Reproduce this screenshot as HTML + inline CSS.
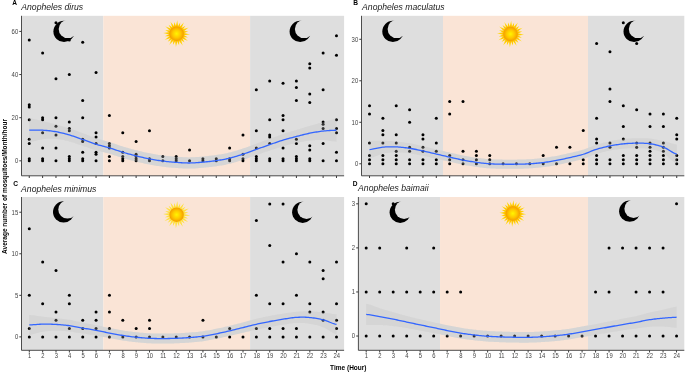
<!DOCTYPE html>
<html><head><meta charset="utf-8"><style>
html,body{margin:0;padding:0;background:#fff;}
svg{display:block;font-family:"Liberation Sans",sans-serif;}
</style></head><body>
<svg width="685" height="372" viewBox="0 0 685 372">
<defs>
<radialGradient id="sg" cx="0.5" cy="0.5" r="0.5"><stop offset="0" stop-color="#fff500"/><stop offset="0.55" stop-color="#ffc800"/><stop offset="0.88" stop-color="#f7a800"/><stop offset="1" stop-color="#f09c00"/></radialGradient>
<linearGradient id="rg" x1="0" y1="0" x2="1" y2="0"><stop offset="0" stop-color="#ffcf1a"/><stop offset="1" stop-color="#ffe066"/></linearGradient>
</defs>
<rect width="685" height="372" fill="#fff"/>
<g style="will-change:transform">
<rect x="21.5" y="15.8" width="81.80" height="160.00" fill="#dedede"/>
<rect x="103.30" y="15.8" width="146.80" height="160.00" fill="#fae4d6"/>
<rect x="250.10" y="15.8" width="94.00" height="160.00" fill="#dedede"/>
<mask id="m1"><rect x="49.0" y="16.4" width="30" height="30" fill="#fff"/><circle cx="67.90" cy="28.90" r="9.2" fill="#000"/></mask>
<circle cx="64.00" cy="31.40" r="10.6" fill="#000" mask="url(#m1)"/>
<mask id="m2"><rect x="285.20000000000005" y="16.4" width="30" height="30" fill="#fff"/><circle cx="304.10" cy="28.90" r="9.2" fill="#000"/></mask>
<circle cx="300.20" cy="31.40" r="10.6" fill="#000" mask="url(#m2)"/>
<radialGradient id="rg177" gradientUnits="userSpaceOnUse" cx="176.6" cy="33.7" r="13"><stop offset="0.55" stop-color="#ffc000"/><stop offset="0.75" stop-color="#ffd000"/><stop offset="1" stop-color="#ffe040"/></radialGradient><path d="M177.34,27.14L180.28,22.28L179.83,27.95ZM180.52,28.39L185.50,25.65L182.28,30.33ZM182.65,31.06L188.33,31.18L183.20,33.62ZM183.16,34.44L188.02,37.38L182.35,36.93ZM181.91,37.62L184.65,42.60L179.97,39.38ZM179.24,39.75L179.12,45.43L176.68,40.30ZM175.86,40.26L172.92,45.12L173.37,39.45ZM172.68,39.01L167.70,41.75L170.92,37.07ZM170.55,36.34L164.87,36.22L170.00,33.78ZM170.04,32.96L165.18,30.02L170.85,30.47ZM171.29,29.78L168.55,24.80L173.23,28.02ZM173.96,27.65L174.08,21.97L176.52,27.10Z" fill="url(#rg177)"/><path d="M175.61,27.17L177.28,20.12L178.23,27.31ZM179.01,27.56L183.98,22.28L181.21,28.98ZM181.76,29.58L188.70,27.50L182.95,31.92ZM183.13,32.71L190.18,34.38L182.99,35.33ZM182.74,36.11L188.02,41.08L181.32,38.31ZM180.72,38.86L182.80,45.80L178.38,40.05ZM177.59,40.23L175.92,47.28L174.97,40.09ZM174.19,39.84L169.22,45.12L171.99,38.42ZM171.44,37.82L164.50,39.90L170.25,35.48ZM170.07,34.69L163.02,33.02L170.21,32.07ZM170.46,31.29L165.18,26.32L171.88,29.09ZM172.48,28.54L170.40,21.60L174.82,27.35Z" fill="url(#rg177)"/><circle cx="176.6" cy="33.7" r="7.2" fill="url(#sg)"/>
<polygon points="29.26,118.35 30.60,118.51 31.93,118.72 33.27,118.96 34.60,119.24 35.94,119.53 37.27,119.85 38.61,120.17 39.95,120.50 41.28,120.83 42.62,121.15 43.95,121.47 45.29,121.79 46.62,122.13 47.96,122.46 49.30,122.81 50.63,123.16 51.97,123.51 53.30,123.87 54.64,124.24 55.97,124.60 57.31,124.97 58.65,125.34 59.98,125.71 61.32,126.08 62.65,126.46 63.99,126.85 65.32,127.24 66.66,127.65 68.00,128.06 69.33,128.49 70.67,128.92 72.00,129.38 73.34,129.84 74.67,130.31 76.01,130.79 77.35,131.28 78.68,131.76 80.02,132.25 81.35,132.74 82.69,133.23 84.02,133.72 85.36,134.23 86.70,134.74 88.03,135.25 89.37,135.76 90.70,136.27 92.04,136.78 93.37,137.26 94.71,137.74 96.05,138.19 97.38,138.62 98.72,139.03 100.05,139.42 101.39,139.80 102.72,140.17 104.06,140.53 105.39,140.90 106.73,141.28 108.07,141.67 109.40,142.07 110.74,142.50 112.07,142.93 113.41,143.38 114.74,143.84 116.08,144.29 117.42,144.75 118.75,145.20 120.09,145.64 121.42,146.08 122.76,146.50 124.09,146.90 125.43,147.30 126.77,147.70 128.10,148.09 129.44,148.47 130.77,148.85 132.11,149.21 133.44,149.57 134.78,149.93 136.12,150.27 137.45,150.61 138.79,150.94 140.12,151.26 141.46,151.57 142.79,151.88 144.13,152.18 145.47,152.47 146.80,152.75 148.14,153.03 149.47,153.29 150.81,153.55 152.14,153.79 153.48,154.03 154.82,154.26 156.15,154.48 157.49,154.69 158.82,154.89 160.16,155.09 161.49,155.27 162.83,155.45 164.17,155.61 165.50,155.77 166.84,155.92 168.17,156.06 169.51,156.19 170.84,156.31 172.18,156.43 173.52,156.54 174.85,156.64 176.19,156.74 177.52,156.84 178.86,156.94 180.19,157.03 181.53,157.12 182.87,157.20 184.20,157.27 185.54,157.33 186.87,157.37 188.21,157.39 189.54,157.39 190.88,157.37 192.22,157.32 193.55,157.26 194.89,157.18 196.22,157.09 197.56,156.99 198.89,156.88 200.23,156.76 201.57,156.65 202.90,156.53 204.24,156.41 205.57,156.28 206.91,156.15 208.24,156.02 209.58,155.87 210.92,155.72 212.25,155.56 213.59,155.39 214.92,155.21 216.26,155.02 217.59,154.81 218.93,154.61 220.27,154.39 221.60,154.17 222.94,153.93 224.27,153.68 225.61,153.42 226.94,153.14 228.28,152.85 229.61,152.54 230.95,152.20 232.29,151.85 233.62,151.48 234.96,151.09 236.29,150.69 237.63,150.28 238.96,149.85 240.30,149.42 241.64,148.99 242.97,148.55 244.31,148.09 245.64,147.63 246.98,147.15 248.31,146.67 249.65,146.17 250.99,145.67 252.32,145.18 253.66,144.68 254.99,144.18 256.33,143.69 257.66,143.21 259.00,142.72 260.34,142.23 261.67,141.75 263.01,141.26 264.34,140.77 265.68,140.29 267.01,139.80 268.35,139.32 269.69,138.84 271.02,138.36 272.36,137.87 273.69,137.39 275.03,136.90 276.36,136.42 277.70,135.94 279.04,135.47 280.37,135.00 281.71,134.54 283.04,134.09 284.38,133.66 285.71,133.23 287.05,132.82 288.39,132.41 289.72,132.00 291.06,131.60 292.39,131.20 293.73,130.80 295.06,130.40 296.40,129.99 297.74,129.58 299.07,129.17 300.41,128.75 301.74,128.33 303.08,127.92 304.41,127.50 305.75,127.09 307.09,126.69 308.42,126.29 309.76,125.90 311.09,125.51 312.43,125.13 313.76,124.76 315.10,124.39 316.44,124.02 317.77,123.66 319.11,123.30 320.44,122.94 321.78,122.59 323.11,122.23 324.45,121.86 325.79,121.47 327.12,121.07 328.46,120.67 329.79,120.27 331.13,119.90 332.46,119.55 333.80,119.24 335.14,118.98 336.47,118.78 336.47,141.64 335.14,141.53 333.80,141.37 332.46,141.18 331.13,140.96 329.79,140.74 328.46,140.52 327.12,140.31 325.79,140.14 324.45,140.00 323.11,139.92 321.78,139.88 320.44,139.87 319.11,139.88 317.77,139.92 316.44,139.98 315.10,140.07 313.76,140.17 312.43,140.29 311.09,140.42 309.76,140.56 308.42,140.73 307.09,140.91 305.75,141.12 304.41,141.35 303.08,141.59 301.74,141.84 300.41,142.11 299.07,142.38 297.74,142.66 296.40,142.94 295.06,143.22 293.73,143.51 292.39,143.81 291.06,144.12 289.72,144.43 288.39,144.76 287.05,145.10 285.71,145.44 284.38,145.80 283.04,146.17 281.71,146.56 280.37,146.96 279.04,147.38 277.70,147.80 276.36,148.24 275.03,148.69 273.69,149.13 272.36,149.59 271.02,150.04 269.69,150.49 268.35,150.94 267.01,151.39 265.68,151.85 264.34,152.32 263.01,152.78 261.67,153.25 260.34,153.72 259.00,154.19 257.66,154.66 256.33,155.12 254.99,155.59 253.66,156.06 252.32,156.54 250.99,157.01 249.65,157.48 248.31,157.95 246.98,158.42 245.64,158.88 244.31,159.32 242.97,159.76 241.64,160.19 240.30,160.63 238.96,161.05 237.63,161.48 236.29,161.89 234.96,162.30 233.62,162.69 232.29,163.06 230.95,163.42 229.61,163.75 228.28,164.07 226.94,164.36 225.61,164.64 224.27,164.90 222.94,165.15 221.60,165.38 220.27,165.61 218.93,165.82 217.59,166.03 216.26,166.23 214.92,166.43 213.59,166.61 212.25,166.78 210.92,166.94 209.58,167.09 208.24,167.23 206.91,167.37 205.57,167.50 204.24,167.62 202.90,167.74 201.57,167.86 200.23,167.98 198.89,168.10 197.56,168.21 196.22,168.31 194.89,168.40 193.55,168.48 192.22,168.54 190.88,168.58 189.54,168.61 188.21,168.60 186.87,168.58 185.54,168.54 184.20,168.49 182.87,168.42 181.53,168.34 180.19,168.25 178.86,168.15 177.52,168.06 176.19,167.96 174.85,167.86 173.52,167.75 172.18,167.64 170.84,167.53 169.51,167.41 168.17,167.27 166.84,167.14 165.50,166.99 164.17,166.83 162.83,166.66 161.49,166.49 160.16,166.30 158.82,166.11 157.49,165.90 156.15,165.69 154.82,165.47 153.48,165.24 152.14,165.01 150.81,164.76 149.47,164.51 148.14,164.24 146.80,163.97 145.47,163.68 144.13,163.39 142.79,163.08 141.46,162.78 140.12,162.46 138.79,162.14 137.45,161.81 136.12,161.49 134.78,161.16 133.44,160.82 132.11,160.48 130.77,160.13 129.44,159.78 128.10,159.42 126.77,159.06 125.43,158.69 124.09,158.31 122.76,157.93 121.42,157.53 120.09,157.12 118.75,156.69 117.42,156.26 116.08,155.82 114.74,155.38 113.41,154.95 112.07,154.53 110.74,154.11 109.40,153.72 108.07,153.35 106.73,153.00 105.39,152.67 104.06,152.34 102.72,152.02 101.39,151.69 100.05,151.36 98.72,151.02 97.38,150.66 96.05,150.27 94.71,149.86 93.37,149.43 92.04,148.98 90.70,148.53 89.37,148.06 88.03,147.59 86.70,147.12 85.36,146.65 84.02,146.19 82.69,145.74 81.35,145.29 80.02,144.84 78.68,144.38 77.35,143.92 76.01,143.46 74.67,143.02 73.34,142.59 72.00,142.18 70.67,141.79 69.33,141.43 68.00,141.08 66.66,140.75 65.32,140.43 63.99,140.12 62.65,139.84 61.32,139.57 59.98,139.34 58.65,139.14 57.31,138.97 55.97,138.84 54.64,138.75 53.30,138.69 51.97,138.67 50.63,138.68 49.30,138.72 47.96,138.78 46.62,138.87 45.29,138.98 43.95,139.12 42.62,139.27 41.28,139.47 39.95,139.72 38.61,140.03 37.27,140.36 35.94,140.70 34.60,141.04 33.27,141.36 31.93,141.65 30.60,141.90 29.26,142.07" fill="#d5d5d5"/>
<circle cx="29.26" cy="40.05" r="1.5" fill="#000"/>
<circle cx="29.26" cy="104.76" r="1.5" fill="#000"/>
<circle cx="29.26" cy="106.92" r="1.5" fill="#000"/>
<circle cx="29.26" cy="119.86" r="1.5" fill="#000"/>
<circle cx="29.26" cy="139.27" r="1.5" fill="#000"/>
<circle cx="29.26" cy="143.58" r="1.5" fill="#000"/>
<circle cx="29.26" cy="158.68" r="1.5" fill="#000"/>
<circle cx="29.26" cy="160.84" r="1.5" fill="#000"/>
<circle cx="42.62" cy="52.99" r="1.5" fill="#000"/>
<circle cx="42.62" cy="117.70" r="1.5" fill="#000"/>
<circle cx="42.62" cy="119.86" r="1.5" fill="#000"/>
<circle cx="42.62" cy="132.80" r="1.5" fill="#000"/>
<circle cx="42.62" cy="147.90" r="1.5" fill="#000"/>
<circle cx="42.62" cy="158.68" r="1.5" fill="#000"/>
<circle cx="42.62" cy="160.84" r="1.5" fill="#000"/>
<circle cx="55.97" cy="22.79" r="1.5" fill="#000"/>
<circle cx="55.97" cy="78.87" r="1.5" fill="#000"/>
<circle cx="55.97" cy="117.70" r="1.5" fill="#000"/>
<circle cx="55.97" cy="126.33" r="1.5" fill="#000"/>
<circle cx="55.97" cy="134.96" r="1.5" fill="#000"/>
<circle cx="55.97" cy="147.90" r="1.5" fill="#000"/>
<circle cx="55.97" cy="160.84" r="1.5" fill="#000"/>
<circle cx="69.33" cy="40.05" r="1.5" fill="#000"/>
<circle cx="69.33" cy="74.56" r="1.5" fill="#000"/>
<circle cx="69.33" cy="122.01" r="1.5" fill="#000"/>
<circle cx="69.33" cy="128.49" r="1.5" fill="#000"/>
<circle cx="69.33" cy="130.64" r="1.5" fill="#000"/>
<circle cx="69.33" cy="156.53" r="1.5" fill="#000"/>
<circle cx="69.33" cy="158.68" r="1.5" fill="#000"/>
<circle cx="69.33" cy="160.84" r="1.5" fill="#000"/>
<circle cx="82.69" cy="42.20" r="1.5" fill="#000"/>
<circle cx="82.69" cy="100.44" r="1.5" fill="#000"/>
<circle cx="82.69" cy="117.70" r="1.5" fill="#000"/>
<circle cx="82.69" cy="139.27" r="1.5" fill="#000"/>
<circle cx="82.69" cy="141.43" r="1.5" fill="#000"/>
<circle cx="82.69" cy="152.21" r="1.5" fill="#000"/>
<circle cx="82.69" cy="158.68" r="1.5" fill="#000"/>
<circle cx="82.69" cy="160.84" r="1.5" fill="#000"/>
<circle cx="96.05" cy="72.40" r="1.5" fill="#000"/>
<circle cx="96.05" cy="132.80" r="1.5" fill="#000"/>
<circle cx="96.05" cy="137.11" r="1.5" fill="#000"/>
<circle cx="96.05" cy="143.58" r="1.5" fill="#000"/>
<circle cx="96.05" cy="152.21" r="1.5" fill="#000"/>
<circle cx="96.05" cy="154.37" r="1.5" fill="#000"/>
<circle cx="96.05" cy="160.84" r="1.5" fill="#000"/>
<circle cx="109.40" cy="115.54" r="1.5" fill="#000"/>
<circle cx="109.40" cy="143.58" r="1.5" fill="#000"/>
<circle cx="109.40" cy="145.74" r="1.5" fill="#000"/>
<circle cx="109.40" cy="147.90" r="1.5" fill="#000"/>
<circle cx="109.40" cy="156.53" r="1.5" fill="#000"/>
<circle cx="109.40" cy="160.84" r="1.5" fill="#000"/>
<circle cx="122.76" cy="132.80" r="1.5" fill="#000"/>
<circle cx="122.76" cy="152.21" r="1.5" fill="#000"/>
<circle cx="122.76" cy="156.53" r="1.5" fill="#000"/>
<circle cx="122.76" cy="158.68" r="1.5" fill="#000"/>
<circle cx="122.76" cy="160.84" r="1.5" fill="#000"/>
<circle cx="136.12" cy="141.43" r="1.5" fill="#000"/>
<circle cx="136.12" cy="154.37" r="1.5" fill="#000"/>
<circle cx="136.12" cy="156.53" r="1.5" fill="#000"/>
<circle cx="136.12" cy="158.68" r="1.5" fill="#000"/>
<circle cx="136.12" cy="160.84" r="1.5" fill="#000"/>
<circle cx="149.47" cy="130.64" r="1.5" fill="#000"/>
<circle cx="149.47" cy="158.68" r="1.5" fill="#000"/>
<circle cx="149.47" cy="160.84" r="1.5" fill="#000"/>
<circle cx="162.83" cy="156.53" r="1.5" fill="#000"/>
<circle cx="162.83" cy="160.84" r="1.5" fill="#000"/>
<circle cx="176.19" cy="156.53" r="1.5" fill="#000"/>
<circle cx="176.19" cy="158.68" r="1.5" fill="#000"/>
<circle cx="176.19" cy="160.84" r="1.5" fill="#000"/>
<circle cx="189.54" cy="150.06" r="1.5" fill="#000"/>
<circle cx="189.54" cy="160.84" r="1.5" fill="#000"/>
<circle cx="202.90" cy="158.68" r="1.5" fill="#000"/>
<circle cx="202.90" cy="160.84" r="1.5" fill="#000"/>
<circle cx="216.26" cy="158.68" r="1.5" fill="#000"/>
<circle cx="216.26" cy="160.84" r="1.5" fill="#000"/>
<circle cx="229.61" cy="147.90" r="1.5" fill="#000"/>
<circle cx="229.61" cy="158.68" r="1.5" fill="#000"/>
<circle cx="229.61" cy="160.84" r="1.5" fill="#000"/>
<circle cx="242.97" cy="134.96" r="1.5" fill="#000"/>
<circle cx="242.97" cy="154.37" r="1.5" fill="#000"/>
<circle cx="242.97" cy="158.68" r="1.5" fill="#000"/>
<circle cx="242.97" cy="160.84" r="1.5" fill="#000"/>
<circle cx="256.33" cy="89.66" r="1.5" fill="#000"/>
<circle cx="256.33" cy="130.64" r="1.5" fill="#000"/>
<circle cx="256.33" cy="147.90" r="1.5" fill="#000"/>
<circle cx="256.33" cy="156.53" r="1.5" fill="#000"/>
<circle cx="256.33" cy="158.68" r="1.5" fill="#000"/>
<circle cx="256.33" cy="160.84" r="1.5" fill="#000"/>
<circle cx="269.69" cy="81.03" r="1.5" fill="#000"/>
<circle cx="269.69" cy="119.86" r="1.5" fill="#000"/>
<circle cx="269.69" cy="134.96" r="1.5" fill="#000"/>
<circle cx="269.69" cy="137.11" r="1.5" fill="#000"/>
<circle cx="269.69" cy="143.58" r="1.5" fill="#000"/>
<circle cx="269.69" cy="158.68" r="1.5" fill="#000"/>
<circle cx="269.69" cy="160.84" r="1.5" fill="#000"/>
<circle cx="283.04" cy="83.19" r="1.5" fill="#000"/>
<circle cx="283.04" cy="115.54" r="1.5" fill="#000"/>
<circle cx="283.04" cy="119.86" r="1.5" fill="#000"/>
<circle cx="283.04" cy="130.64" r="1.5" fill="#000"/>
<circle cx="283.04" cy="147.90" r="1.5" fill="#000"/>
<circle cx="283.04" cy="158.68" r="1.5" fill="#000"/>
<circle cx="283.04" cy="160.84" r="1.5" fill="#000"/>
<circle cx="296.40" cy="81.03" r="1.5" fill="#000"/>
<circle cx="296.40" cy="87.50" r="1.5" fill="#000"/>
<circle cx="296.40" cy="100.44" r="1.5" fill="#000"/>
<circle cx="296.40" cy="139.27" r="1.5" fill="#000"/>
<circle cx="296.40" cy="143.58" r="1.5" fill="#000"/>
<circle cx="296.40" cy="156.53" r="1.5" fill="#000"/>
<circle cx="296.40" cy="158.68" r="1.5" fill="#000"/>
<circle cx="296.40" cy="160.84" r="1.5" fill="#000"/>
<circle cx="309.76" cy="63.78" r="1.5" fill="#000"/>
<circle cx="309.76" cy="68.09" r="1.5" fill="#000"/>
<circle cx="309.76" cy="93.97" r="1.5" fill="#000"/>
<circle cx="309.76" cy="102.60" r="1.5" fill="#000"/>
<circle cx="309.76" cy="145.74" r="1.5" fill="#000"/>
<circle cx="309.76" cy="150.06" r="1.5" fill="#000"/>
<circle cx="309.76" cy="158.68" r="1.5" fill="#000"/>
<circle cx="309.76" cy="160.84" r="1.5" fill="#000"/>
<circle cx="323.11" cy="52.99" r="1.5" fill="#000"/>
<circle cx="323.11" cy="89.66" r="1.5" fill="#000"/>
<circle cx="323.11" cy="122.01" r="1.5" fill="#000"/>
<circle cx="323.11" cy="124.17" r="1.5" fill="#000"/>
<circle cx="323.11" cy="128.49" r="1.5" fill="#000"/>
<circle cx="323.11" cy="143.58" r="1.5" fill="#000"/>
<circle cx="323.11" cy="160.84" r="1.5" fill="#000"/>
<circle cx="336.47" cy="35.73" r="1.5" fill="#000"/>
<circle cx="336.47" cy="55.15" r="1.5" fill="#000"/>
<circle cx="336.47" cy="119.86" r="1.5" fill="#000"/>
<circle cx="336.47" cy="128.49" r="1.5" fill="#000"/>
<circle cx="336.47" cy="132.80" r="1.5" fill="#000"/>
<circle cx="336.47" cy="152.21" r="1.5" fill="#000"/>
<circle cx="336.47" cy="160.84" r="1.5" fill="#000"/>
<polygon points="29.26,118.35 30.60,118.51 31.93,118.72 33.27,118.96 34.60,119.24 35.94,119.53 37.27,119.85 38.61,120.17 39.95,120.50 41.28,120.83 42.62,121.15 43.95,121.47 45.29,121.79 46.62,122.13 47.96,122.46 49.30,122.81 50.63,123.16 51.97,123.51 53.30,123.87 54.64,124.24 55.97,124.60 57.31,124.97 58.65,125.34 59.98,125.71 61.32,126.08 62.65,126.46 63.99,126.85 65.32,127.24 66.66,127.65 68.00,128.06 69.33,128.49 70.67,128.92 72.00,129.38 73.34,129.84 74.67,130.31 76.01,130.79 77.35,131.28 78.68,131.76 80.02,132.25 81.35,132.74 82.69,133.23 84.02,133.72 85.36,134.23 86.70,134.74 88.03,135.25 89.37,135.76 90.70,136.27 92.04,136.78 93.37,137.26 94.71,137.74 96.05,138.19 97.38,138.62 98.72,139.03 100.05,139.42 101.39,139.80 102.72,140.17 104.06,140.53 105.39,140.90 106.73,141.28 108.07,141.67 109.40,142.07 110.74,142.50 112.07,142.93 113.41,143.38 114.74,143.84 116.08,144.29 117.42,144.75 118.75,145.20 120.09,145.64 121.42,146.08 122.76,146.50 124.09,146.90 125.43,147.30 126.77,147.70 128.10,148.09 129.44,148.47 130.77,148.85 132.11,149.21 133.44,149.57 134.78,149.93 136.12,150.27 137.45,150.61 138.79,150.94 140.12,151.26 141.46,151.57 142.79,151.88 144.13,152.18 145.47,152.47 146.80,152.75 148.14,153.03 149.47,153.29 150.81,153.55 152.14,153.79 153.48,154.03 154.82,154.26 156.15,154.48 157.49,154.69 158.82,154.89 160.16,155.09 161.49,155.27 162.83,155.45 164.17,155.61 165.50,155.77 166.84,155.92 168.17,156.06 169.51,156.19 170.84,156.31 172.18,156.43 173.52,156.54 174.85,156.64 176.19,156.74 177.52,156.84 178.86,156.94 180.19,157.03 181.53,157.12 182.87,157.20 184.20,157.27 185.54,157.33 186.87,157.37 188.21,157.39 189.54,157.39 190.88,157.37 192.22,157.32 193.55,157.26 194.89,157.18 196.22,157.09 197.56,156.99 198.89,156.88 200.23,156.76 201.57,156.65 202.90,156.53 204.24,156.41 205.57,156.28 206.91,156.15 208.24,156.02 209.58,155.87 210.92,155.72 212.25,155.56 213.59,155.39 214.92,155.21 216.26,155.02 217.59,154.81 218.93,154.61 220.27,154.39 221.60,154.17 222.94,153.93 224.27,153.68 225.61,153.42 226.94,153.14 228.28,152.85 229.61,152.54 230.95,152.20 232.29,151.85 233.62,151.48 234.96,151.09 236.29,150.69 237.63,150.28 238.96,149.85 240.30,149.42 241.64,148.99 242.97,148.55 244.31,148.09 245.64,147.63 246.98,147.15 248.31,146.67 249.65,146.17 250.99,145.67 252.32,145.18 253.66,144.68 254.99,144.18 256.33,143.69 257.66,143.21 259.00,142.72 260.34,142.23 261.67,141.75 263.01,141.26 264.34,140.77 265.68,140.29 267.01,139.80 268.35,139.32 269.69,138.84 271.02,138.36 272.36,137.87 273.69,137.39 275.03,136.90 276.36,136.42 277.70,135.94 279.04,135.47 280.37,135.00 281.71,134.54 283.04,134.09 284.38,133.66 285.71,133.23 287.05,132.82 288.39,132.41 289.72,132.00 291.06,131.60 292.39,131.20 293.73,130.80 295.06,130.40 296.40,129.99 297.74,129.58 299.07,129.17 300.41,128.75 301.74,128.33 303.08,127.92 304.41,127.50 305.75,127.09 307.09,126.69 308.42,126.29 309.76,125.90 311.09,125.51 312.43,125.13 313.76,124.76 315.10,124.39 316.44,124.02 317.77,123.66 319.11,123.30 320.44,122.94 321.78,122.59 323.11,122.23 324.45,121.86 325.79,121.47 327.12,121.07 328.46,120.67 329.79,120.27 331.13,119.90 332.46,119.55 333.80,119.24 335.14,118.98 336.47,118.78 336.47,141.64 335.14,141.53 333.80,141.37 332.46,141.18 331.13,140.96 329.79,140.74 328.46,140.52 327.12,140.31 325.79,140.14 324.45,140.00 323.11,139.92 321.78,139.88 320.44,139.87 319.11,139.88 317.77,139.92 316.44,139.98 315.10,140.07 313.76,140.17 312.43,140.29 311.09,140.42 309.76,140.56 308.42,140.73 307.09,140.91 305.75,141.12 304.41,141.35 303.08,141.59 301.74,141.84 300.41,142.11 299.07,142.38 297.74,142.66 296.40,142.94 295.06,143.22 293.73,143.51 292.39,143.81 291.06,144.12 289.72,144.43 288.39,144.76 287.05,145.10 285.71,145.44 284.38,145.80 283.04,146.17 281.71,146.56 280.37,146.96 279.04,147.38 277.70,147.80 276.36,148.24 275.03,148.69 273.69,149.13 272.36,149.59 271.02,150.04 269.69,150.49 268.35,150.94 267.01,151.39 265.68,151.85 264.34,152.32 263.01,152.78 261.67,153.25 260.34,153.72 259.00,154.19 257.66,154.66 256.33,155.12 254.99,155.59 253.66,156.06 252.32,156.54 250.99,157.01 249.65,157.48 248.31,157.95 246.98,158.42 245.64,158.88 244.31,159.32 242.97,159.76 241.64,160.19 240.30,160.63 238.96,161.05 237.63,161.48 236.29,161.89 234.96,162.30 233.62,162.69 232.29,163.06 230.95,163.42 229.61,163.75 228.28,164.07 226.94,164.36 225.61,164.64 224.27,164.90 222.94,165.15 221.60,165.38 220.27,165.61 218.93,165.82 217.59,166.03 216.26,166.23 214.92,166.43 213.59,166.61 212.25,166.78 210.92,166.94 209.58,167.09 208.24,167.23 206.91,167.37 205.57,167.50 204.24,167.62 202.90,167.74 201.57,167.86 200.23,167.98 198.89,168.10 197.56,168.21 196.22,168.31 194.89,168.40 193.55,168.48 192.22,168.54 190.88,168.58 189.54,168.61 188.21,168.60 186.87,168.58 185.54,168.54 184.20,168.49 182.87,168.42 181.53,168.34 180.19,168.25 178.86,168.15 177.52,168.06 176.19,167.96 174.85,167.86 173.52,167.75 172.18,167.64 170.84,167.53 169.51,167.41 168.17,167.27 166.84,167.14 165.50,166.99 164.17,166.83 162.83,166.66 161.49,166.49 160.16,166.30 158.82,166.11 157.49,165.90 156.15,165.69 154.82,165.47 153.48,165.24 152.14,165.01 150.81,164.76 149.47,164.51 148.14,164.24 146.80,163.97 145.47,163.68 144.13,163.39 142.79,163.08 141.46,162.78 140.12,162.46 138.79,162.14 137.45,161.81 136.12,161.49 134.78,161.16 133.44,160.82 132.11,160.48 130.77,160.13 129.44,159.78 128.10,159.42 126.77,159.06 125.43,158.69 124.09,158.31 122.76,157.93 121.42,157.53 120.09,157.12 118.75,156.69 117.42,156.26 116.08,155.82 114.74,155.38 113.41,154.95 112.07,154.53 110.74,154.11 109.40,153.72 108.07,153.35 106.73,153.00 105.39,152.67 104.06,152.34 102.72,152.02 101.39,151.69 100.05,151.36 98.72,151.02 97.38,150.66 96.05,150.27 94.71,149.86 93.37,149.43 92.04,148.98 90.70,148.53 89.37,148.06 88.03,147.59 86.70,147.12 85.36,146.65 84.02,146.19 82.69,145.74 81.35,145.29 80.02,144.84 78.68,144.38 77.35,143.92 76.01,143.46 74.67,143.02 73.34,142.59 72.00,142.18 70.67,141.79 69.33,141.43 68.00,141.08 66.66,140.75 65.32,140.43 63.99,140.12 62.65,139.84 61.32,139.57 59.98,139.34 58.65,139.14 57.31,138.97 55.97,138.84 54.64,138.75 53.30,138.69 51.97,138.67 50.63,138.68 49.30,138.72 47.96,138.78 46.62,138.87 45.29,138.98 43.95,139.12 42.62,139.27 41.28,139.47 39.95,139.72 38.61,140.03 37.27,140.36 35.94,140.70 34.60,141.04 33.27,141.36 31.93,141.65 30.60,141.90 29.26,142.07" fill="#d5d5d5" fill-opacity="0.24"/>
<polyline points="29.26,130.21 30.60,130.20 31.93,130.19 33.27,130.16 34.60,130.14 35.94,130.12 37.27,130.10 38.61,130.10 39.95,130.11 41.28,130.15 42.62,130.21 43.95,130.29 45.29,130.39 46.62,130.50 47.96,130.62 49.30,130.76 50.63,130.92 51.97,131.09 53.30,131.28 54.64,131.49 55.97,131.72 57.31,131.97 58.65,132.24 59.98,132.52 61.32,132.83 62.65,133.15 63.99,133.49 65.32,133.84 66.66,134.20 68.00,134.57 69.33,134.96 70.67,135.36 72.00,135.78 73.34,136.21 74.67,136.66 76.01,137.13 77.35,137.60 78.68,138.07 80.02,138.55 81.35,139.02 82.69,139.49 84.02,139.96 85.36,140.44 86.70,140.93 88.03,141.42 89.37,141.91 90.70,142.40 92.04,142.88 93.37,143.35 94.71,143.80 96.05,144.23 97.38,144.64 98.72,145.02 100.05,145.39 101.39,145.74 102.72,146.09 104.06,146.44 105.39,146.78 106.73,147.14 108.07,147.51 109.40,147.90 110.74,148.31 112.07,148.73 113.41,149.17 114.74,149.61 116.08,150.06 117.42,150.50 118.75,150.94 120.09,151.38 121.42,151.80 122.76,152.21 124.09,152.61 125.43,153.00 126.77,153.38 128.10,153.76 129.44,154.13 130.77,154.49 132.11,154.85 133.44,155.20 134.78,155.54 136.12,155.88 137.45,156.21 138.79,156.54 140.12,156.86 141.46,157.17 142.79,157.48 144.13,157.78 145.47,158.08 146.80,158.36 148.14,158.63 149.47,158.90 150.81,159.15 152.14,159.40 153.48,159.64 154.82,159.87 156.15,160.09 157.49,160.30 158.82,160.50 160.16,160.69 161.49,160.88 162.83,161.06 164.17,161.22 165.50,161.38 166.84,161.53 168.17,161.67 169.51,161.80 170.84,161.92 172.18,162.04 173.52,162.15 174.85,162.25 176.19,162.35 177.52,162.45 178.86,162.54 180.19,162.64 181.53,162.73 182.87,162.81 184.20,162.88 185.54,162.93 186.87,162.97 188.21,163.00 189.54,163.00 190.88,162.97 192.22,162.93 193.55,162.87 194.89,162.79 196.22,162.70 197.56,162.60 198.89,162.49 200.23,162.37 201.57,162.25 202.90,162.13 204.24,162.01 205.57,161.89 206.91,161.76 208.24,161.62 209.58,161.48 210.92,161.33 212.25,161.17 213.59,161.00 214.92,160.82 216.26,160.62 217.59,160.42 218.93,160.21 220.27,160.00 221.60,159.77 222.94,159.54 224.27,159.29 225.61,159.03 226.94,158.75 228.28,158.46 229.61,158.14 230.95,157.81 232.29,157.45 233.62,157.08 234.96,156.69 236.29,156.29 237.63,155.88 238.96,155.45 240.30,155.02 241.64,154.59 242.97,154.15 244.31,153.71 245.64,153.25 246.98,152.79 248.31,152.31 249.65,151.83 250.99,151.34 252.32,150.86 253.66,150.37 254.99,149.89 256.33,149.41 257.66,148.93 259.00,148.46 260.34,147.98 261.67,147.50 263.01,147.02 264.34,146.55 265.68,146.07 267.01,145.60 268.35,145.13 269.69,144.66 271.02,144.20 272.36,143.73 273.69,143.26 275.03,142.79 276.36,142.33 277.70,141.87 279.04,141.42 280.37,140.98 281.71,140.55 283.04,140.13 284.38,139.73 285.71,139.34 287.05,138.96 288.39,138.58 289.72,138.22 291.06,137.86 292.39,137.51 293.73,137.16 295.06,136.81 296.40,136.47 297.74,136.12 299.07,135.77 300.41,135.43 301.74,135.09 303.08,134.75 304.41,134.43 305.75,134.11 307.09,133.80 308.42,133.51 309.76,133.23 311.09,132.97 312.43,132.71 313.76,132.46 315.10,132.23 316.44,132.00 317.77,131.79 319.11,131.59 320.44,131.40 321.78,131.23 323.11,131.07 324.45,130.93 325.79,130.80 327.12,130.69 328.46,130.59 329.79,130.51 331.13,130.43 332.46,130.37 333.80,130.31 335.14,130.26 336.47,130.21" fill="none" stroke="#3366ff" stroke-width="1.3"/>
<path d="M21.5,15.8V175.8H344.1" fill="none" stroke="#3a3a3a" stroke-width="0.9"/>
<path d="M19.3,160.84H21.5" stroke="#3a3a3a" stroke-width="1.0"/>
<text transform="translate(18.20,163.19) scale(0.92,1)" font-size="6.5" fill="#444" text-anchor="end">0</text>
<path d="M19.3,117.70H21.5" stroke="#3a3a3a" stroke-width="1.0"/>
<text transform="translate(18.20,120.05) scale(0.92,1)" font-size="6.5" fill="#444" text-anchor="end">20</text>
<path d="M19.3,74.56H21.5" stroke="#3a3a3a" stroke-width="1.0"/>
<text transform="translate(18.20,76.91) scale(0.92,1)" font-size="6.5" fill="#444" text-anchor="end">40</text>
<path d="M19.3,31.42H21.5" stroke="#3a3a3a" stroke-width="1.0"/>
<text transform="translate(18.20,33.77) scale(0.92,1)" font-size="6.5" fill="#444" text-anchor="end">60</text>
<path d="M29.26,175.8V178.0" stroke="#3a3a3a" stroke-width="1.0"/>
<path d="M42.62,175.8V178.0" stroke="#3a3a3a" stroke-width="1.0"/>
<path d="M55.97,175.8V178.0" stroke="#3a3a3a" stroke-width="1.0"/>
<path d="M69.33,175.8V178.0" stroke="#3a3a3a" stroke-width="1.0"/>
<path d="M82.69,175.8V178.0" stroke="#3a3a3a" stroke-width="1.0"/>
<path d="M96.05,175.8V178.0" stroke="#3a3a3a" stroke-width="1.0"/>
<path d="M109.40,175.8V178.0" stroke="#3a3a3a" stroke-width="1.0"/>
<path d="M122.76,175.8V178.0" stroke="#3a3a3a" stroke-width="1.0"/>
<path d="M136.12,175.8V178.0" stroke="#3a3a3a" stroke-width="1.0"/>
<path d="M149.47,175.8V178.0" stroke="#3a3a3a" stroke-width="1.0"/>
<path d="M162.83,175.8V178.0" stroke="#3a3a3a" stroke-width="1.0"/>
<path d="M176.19,175.8V178.0" stroke="#3a3a3a" stroke-width="1.0"/>
<path d="M189.54,175.8V178.0" stroke="#3a3a3a" stroke-width="1.0"/>
<path d="M202.90,175.8V178.0" stroke="#3a3a3a" stroke-width="1.0"/>
<path d="M216.26,175.8V178.0" stroke="#3a3a3a" stroke-width="1.0"/>
<path d="M229.61,175.8V178.0" stroke="#3a3a3a" stroke-width="1.0"/>
<path d="M242.97,175.8V178.0" stroke="#3a3a3a" stroke-width="1.0"/>
<path d="M256.33,175.8V178.0" stroke="#3a3a3a" stroke-width="1.0"/>
<path d="M269.69,175.8V178.0" stroke="#3a3a3a" stroke-width="1.0"/>
<path d="M283.04,175.8V178.0" stroke="#3a3a3a" stroke-width="1.0"/>
<path d="M296.40,175.8V178.0" stroke="#3a3a3a" stroke-width="1.0"/>
<path d="M309.76,175.8V178.0" stroke="#3a3a3a" stroke-width="1.0"/>
<path d="M323.11,175.8V178.0" stroke="#3a3a3a" stroke-width="1.0"/>
<path d="M336.47,175.8V178.0" stroke="#3a3a3a" stroke-width="1.0"/>
<text x="12.2" y="4.8" font-size="6.6" font-weight="bold">A</text>
<text x="21.3" y="10.0" font-size="8.65" font-style="italic" fill="#1a1a1a">Anopheles dirus</text>
<rect x="361.5" y="15.8" width="81.50" height="160.00" fill="#dedede"/>
<rect x="443.00" y="15.8" width="145.00" height="160.00" fill="#fae4d6"/>
<rect x="588.00" y="15.8" width="96.30" height="160.00" fill="#dedede"/>
<mask id="m3"><rect x="377.90000000000003" y="16.4" width="30" height="30" fill="#fff"/><circle cx="396.80" cy="28.90" r="9.2" fill="#000"/></mask>
<circle cx="392.90" cy="31.40" r="10.6" fill="#000" mask="url(#m3)"/>
<mask id="m4"><rect x="619.1" y="16.4" width="30" height="30" fill="#fff"/><circle cx="638.00" cy="28.90" r="9.2" fill="#000"/></mask>
<circle cx="634.10" cy="31.40" r="10.6" fill="#000" mask="url(#m4)"/>
<radialGradient id="rg510" gradientUnits="userSpaceOnUse" cx="510.5" cy="34.0" r="13"><stop offset="0.55" stop-color="#ffc000"/><stop offset="0.75" stop-color="#ffd000"/><stop offset="1" stop-color="#ffe040"/></radialGradient><path d="M511.24,27.44L514.18,22.58L513.73,28.25ZM514.42,28.69L519.40,25.95L516.18,30.63ZM516.55,31.36L522.23,31.48L517.10,33.92ZM517.06,34.74L521.92,37.68L516.25,37.23ZM515.81,37.92L518.55,42.90L513.87,39.68ZM513.14,40.05L513.02,45.73L510.58,40.60ZM509.76,40.56L506.82,45.42L507.27,39.75ZM506.58,39.31L501.60,42.05L504.82,37.37ZM504.45,36.64L498.77,36.52L503.90,34.08ZM503.94,33.26L499.08,30.32L504.75,30.77ZM505.19,30.08L502.45,25.10L507.13,28.32ZM507.86,27.95L507.98,22.27L510.42,27.40Z" fill="url(#rg510)"/><path d="M509.51,27.47L511.18,20.42L512.13,27.61ZM512.91,27.86L517.88,22.58L515.11,29.28ZM515.66,29.88L522.60,27.80L516.85,32.22ZM517.03,33.01L524.08,34.68L516.89,35.63ZM516.64,36.41L521.92,41.38L515.22,38.61ZM514.62,39.16L516.70,46.10L512.28,40.35ZM511.49,40.53L509.82,47.58L508.87,40.39ZM508.09,40.14L503.12,45.42L505.89,38.72ZM505.34,38.12L498.40,40.20L504.15,35.78ZM503.97,34.99L496.92,33.32L504.11,32.37ZM504.36,31.59L499.08,26.62L505.78,29.39ZM506.38,28.84L504.30,21.90L508.72,27.65Z" fill="url(#rg510)"/><circle cx="510.5" cy="34.0" r="7.2" fill="url(#sg)"/>
<polygon points="369.53,140.84 370.87,140.83 372.20,140.82 373.54,140.80 374.87,140.77 376.21,140.75 377.54,140.73 378.88,140.72 380.22,140.72 381.55,140.73 382.89,140.76 384.22,140.79 385.56,140.84 386.89,140.89 388.23,140.94 389.57,141.01 390.90,141.09 392.24,141.17 393.57,141.27 394.91,141.38 396.24,141.50 397.58,141.64 398.92,141.78 400.25,141.94 401.59,142.11 402.92,142.29 404.26,142.48 405.59,142.68 406.93,142.88 408.27,143.10 409.60,143.33 410.94,143.57 412.27,143.82 413.61,144.09 414.94,144.36 416.28,144.65 417.62,144.94 418.95,145.24 420.29,145.54 421.62,145.85 422.96,146.15 424.29,146.47 425.63,146.79 426.97,147.12 428.30,147.45 429.64,147.79 430.97,148.14 432.31,148.48 433.64,148.81 434.98,149.15 436.31,149.47 437.65,149.79 438.99,150.11 440.32,150.43 441.66,150.74 442.99,151.05 444.33,151.36 445.66,151.67 447.00,151.98 448.34,152.28 449.67,152.58 451.01,152.89 452.34,153.19 453.68,153.49 455.01,153.79 456.35,154.09 457.69,154.38 459.02,154.67 460.36,154.95 461.69,155.23 463.03,155.49 464.36,155.75 465.70,156.00 467.04,156.25 468.37,156.49 469.71,156.72 471.04,156.95 472.38,157.17 473.71,157.38 475.05,157.58 476.39,157.77 477.72,157.96 479.06,158.13 480.39,158.30 481.73,158.46 483.06,158.62 484.40,158.76 485.74,158.89 487.07,159.01 488.41,159.13 489.74,159.22 491.08,159.31 492.41,159.38 493.75,159.44 495.09,159.49 496.42,159.52 497.76,159.55 499.09,159.58 500.43,159.60 501.76,159.62 503.10,159.64 504.44,159.66 505.77,159.67 507.11,159.68 508.44,159.69 509.78,159.69 511.11,159.69 512.45,159.68 513.79,159.67 515.12,159.66 516.46,159.64 517.79,159.62 519.13,159.60 520.46,159.57 521.80,159.54 523.14,159.51 524.47,159.47 525.81,159.42 527.14,159.37 528.48,159.30 529.81,159.22 531.15,159.14 532.49,159.04 533.82,158.94 535.16,158.83 536.49,158.71 537.83,158.58 539.16,158.44 540.50,158.30 541.84,158.14 543.17,157.98 544.51,157.81 545.84,157.63 547.18,157.44 548.51,157.25 549.85,157.05 551.19,156.83 552.52,156.61 553.86,156.39 555.19,156.15 556.53,155.91 557.86,155.65 559.20,155.38 560.54,155.11 561.87,154.82 563.21,154.53 564.54,154.23 565.88,153.93 567.21,153.62 568.55,153.31 569.88,153.00 571.22,152.69 572.56,152.39 573.89,152.09 575.23,151.78 576.56,151.47 577.90,151.15 579.23,150.81 580.57,150.46 581.91,150.08 583.24,149.68 584.58,149.24 585.91,148.76 587.25,148.26 588.58,147.73 589.92,147.19 591.26,146.65 592.59,146.12 593.93,145.62 595.26,145.14 596.60,144.70 597.93,144.30 599.27,143.91 600.61,143.55 601.94,143.20 603.28,142.87 604.61,142.55 605.95,142.25 607.28,141.95 608.62,141.66 609.96,141.38 611.29,141.10 612.63,140.84 613.96,140.58 615.30,140.33 616.63,140.09 617.97,139.86 619.31,139.65 620.64,139.45 621.98,139.27 623.31,139.10 624.65,138.94 625.98,138.81 627.32,138.68 628.66,138.57 629.99,138.47 631.33,138.39 632.66,138.32 634.00,138.26 635.33,138.22 636.67,138.18 638.01,138.16 639.34,138.15 640.68,138.14 642.01,138.15 643.35,138.18 644.68,138.22 646.02,138.28 647.36,138.36 648.69,138.47 650.03,138.60 651.36,138.76 652.70,138.96 654.03,139.18 655.37,139.42 656.71,139.68 658.04,139.95 659.38,140.24 660.71,140.54 662.05,140.83 663.38,141.13 664.72,141.45 666.06,141.81 667.39,142.20 668.73,142.59 670.06,142.99 671.40,143.38 672.73,143.74 674.07,144.06 675.41,144.33 676.74,144.53 676.74,163.62 675.41,162.97 674.07,162.10 672.73,161.06 671.40,159.89 670.06,158.66 668.73,157.40 667.39,156.17 666.06,155.02 664.72,154.01 663.38,153.17 662.05,152.48 660.71,151.87 659.38,151.34 658.04,150.88 656.71,150.47 655.37,150.11 654.03,149.79 652.70,149.50 651.36,149.23 650.03,148.97 648.69,148.75 647.36,148.57 646.02,148.44 644.68,148.34 643.35,148.27 642.01,148.22 640.68,148.19 639.34,148.17 638.01,148.16 636.67,148.14 635.33,148.13 634.00,148.14 632.66,148.15 631.33,148.18 629.99,148.22 628.66,148.28 627.32,148.35 625.98,148.43 624.65,148.53 623.31,148.64 621.98,148.77 620.64,148.91 619.31,149.06 617.97,149.22 616.63,149.40 615.30,149.59 613.96,149.80 612.63,150.02 611.29,150.26 609.96,150.51 608.62,150.78 607.28,151.05 605.95,151.35 604.61,151.65 603.28,151.98 601.94,152.31 600.61,152.67 599.27,153.04 597.93,153.42 596.60,153.83 595.26,154.27 593.93,154.75 592.59,155.25 591.26,155.78 589.92,156.32 588.58,156.86 587.25,157.39 585.91,157.89 584.58,158.37 583.24,158.81 581.91,159.21 580.57,159.59 579.23,159.94 577.90,160.28 576.56,160.60 575.23,160.91 573.89,161.22 572.56,161.52 571.22,161.82 569.88,162.13 568.55,162.44 567.21,162.75 565.88,163.06 564.54,163.36 563.21,163.66 561.87,163.95 560.54,164.24 559.20,164.51 557.86,164.78 556.53,165.03 555.19,165.28 553.86,165.52 552.52,165.74 551.19,165.96 549.85,166.18 548.51,166.38 547.18,166.57 545.84,166.76 544.51,166.94 543.17,167.11 541.84,167.27 540.50,167.43 539.16,167.57 537.83,167.71 536.49,167.84 535.16,167.96 533.82,168.07 532.49,168.17 531.15,168.27 529.81,168.35 528.48,168.43 527.14,168.50 525.81,168.55 524.47,168.60 523.14,168.64 521.80,168.67 520.46,168.70 519.13,168.73 517.79,168.75 516.46,168.77 515.12,168.79 513.79,168.80 512.45,168.81 511.11,168.82 509.78,168.82 508.44,168.82 507.11,168.81 505.77,168.80 504.44,168.79 503.10,168.77 501.76,168.75 500.43,168.73 499.09,168.71 497.76,168.68 496.42,168.65 495.09,168.62 493.75,168.57 492.41,168.51 491.08,168.44 489.74,168.35 488.41,168.26 487.07,168.14 485.74,168.02 484.40,167.89 483.06,167.75 481.73,167.59 480.39,167.43 479.06,167.26 477.72,167.09 476.39,166.90 475.05,166.71 473.71,166.51 472.38,166.30 471.04,166.08 469.71,165.85 468.37,165.62 467.04,165.38 465.70,165.13 464.36,164.88 463.03,164.62 461.69,164.36 460.36,164.08 459.02,163.80 457.69,163.51 456.35,163.22 455.01,162.92 453.68,162.62 452.34,162.32 451.01,162.02 449.67,161.72 448.34,161.41 447.00,161.10 445.66,160.79 444.33,160.47 442.99,160.16 441.66,159.84 440.32,159.53 438.99,159.22 437.65,158.91 436.31,158.60 434.98,158.30 433.64,158.00 432.31,157.70 430.97,157.40 429.64,157.11 428.30,156.81 426.97,156.53 425.63,156.24 424.29,155.97 422.96,155.70 421.62,155.43 420.29,155.16 418.95,154.89 417.62,154.63 416.28,154.37 414.94,154.13 413.61,153.89 412.27,153.67 410.94,153.47 409.60,153.29 408.27,153.12 406.93,152.96 405.59,152.81 404.26,152.68 402.92,152.56 401.59,152.46 400.25,152.38 398.92,152.32 397.58,152.29 396.24,152.29 394.91,152.32 393.57,152.36 392.24,152.42 390.90,152.50 389.57,152.61 388.23,152.74 386.89,152.91 385.56,153.11 384.22,153.34 382.89,153.62 381.55,153.97 380.22,154.41 378.88,154.92 377.54,155.47 376.21,156.03 374.87,156.59 373.54,157.11 372.20,157.59 370.87,157.98 369.53,158.27" fill="#d5d5d5"/>
<circle cx="369.53" cy="105.69" r="1.5" fill="#000"/>
<circle cx="369.53" cy="113.99" r="1.5" fill="#000"/>
<circle cx="369.53" cy="143.04" r="1.5" fill="#000"/>
<circle cx="369.53" cy="155.49" r="1.5" fill="#000"/>
<circle cx="369.53" cy="159.64" r="1.5" fill="#000"/>
<circle cx="369.53" cy="163.79" r="1.5" fill="#000"/>
<circle cx="382.89" cy="118.14" r="1.5" fill="#000"/>
<circle cx="382.89" cy="130.59" r="1.5" fill="#000"/>
<circle cx="382.89" cy="134.74" r="1.5" fill="#000"/>
<circle cx="382.89" cy="143.04" r="1.5" fill="#000"/>
<circle cx="382.89" cy="155.49" r="1.5" fill="#000"/>
<circle cx="382.89" cy="159.64" r="1.5" fill="#000"/>
<circle cx="382.89" cy="163.79" r="1.5" fill="#000"/>
<circle cx="396.24" cy="105.69" r="1.5" fill="#000"/>
<circle cx="396.24" cy="134.74" r="1.5" fill="#000"/>
<circle cx="396.24" cy="143.04" r="1.5" fill="#000"/>
<circle cx="396.24" cy="151.34" r="1.5" fill="#000"/>
<circle cx="396.24" cy="155.49" r="1.5" fill="#000"/>
<circle cx="396.24" cy="159.64" r="1.5" fill="#000"/>
<circle cx="396.24" cy="163.79" r="1.5" fill="#000"/>
<circle cx="409.60" cy="109.84" r="1.5" fill="#000"/>
<circle cx="409.60" cy="122.29" r="1.5" fill="#000"/>
<circle cx="409.60" cy="147.19" r="1.5" fill="#000"/>
<circle cx="409.60" cy="151.34" r="1.5" fill="#000"/>
<circle cx="409.60" cy="159.64" r="1.5" fill="#000"/>
<circle cx="409.60" cy="163.79" r="1.5" fill="#000"/>
<circle cx="422.96" cy="134.74" r="1.5" fill="#000"/>
<circle cx="422.96" cy="138.89" r="1.5" fill="#000"/>
<circle cx="422.96" cy="147.19" r="1.5" fill="#000"/>
<circle cx="422.96" cy="151.34" r="1.5" fill="#000"/>
<circle cx="422.96" cy="159.64" r="1.5" fill="#000"/>
<circle cx="422.96" cy="163.79" r="1.5" fill="#000"/>
<circle cx="436.31" cy="118.14" r="1.5" fill="#000"/>
<circle cx="436.31" cy="143.04" r="1.5" fill="#000"/>
<circle cx="436.31" cy="151.34" r="1.5" fill="#000"/>
<circle cx="436.31" cy="159.64" r="1.5" fill="#000"/>
<circle cx="436.31" cy="163.79" r="1.5" fill="#000"/>
<circle cx="449.67" cy="101.54" r="1.5" fill="#000"/>
<circle cx="449.67" cy="113.99" r="1.5" fill="#000"/>
<circle cx="449.67" cy="155.49" r="1.5" fill="#000"/>
<circle cx="449.67" cy="159.64" r="1.5" fill="#000"/>
<circle cx="449.67" cy="163.79" r="1.5" fill="#000"/>
<circle cx="463.03" cy="101.54" r="1.5" fill="#000"/>
<circle cx="463.03" cy="151.34" r="1.5" fill="#000"/>
<circle cx="463.03" cy="159.64" r="1.5" fill="#000"/>
<circle cx="463.03" cy="163.79" r="1.5" fill="#000"/>
<circle cx="476.39" cy="151.34" r="1.5" fill="#000"/>
<circle cx="476.39" cy="155.49" r="1.5" fill="#000"/>
<circle cx="476.39" cy="159.64" r="1.5" fill="#000"/>
<circle cx="476.39" cy="163.79" r="1.5" fill="#000"/>
<circle cx="489.74" cy="155.49" r="1.5" fill="#000"/>
<circle cx="489.74" cy="159.64" r="1.5" fill="#000"/>
<circle cx="489.74" cy="163.79" r="1.5" fill="#000"/>
<circle cx="503.10" cy="163.79" r="1.5" fill="#000"/>
<circle cx="516.46" cy="163.79" r="1.5" fill="#000"/>
<circle cx="529.81" cy="163.79" r="1.5" fill="#000"/>
<circle cx="543.17" cy="155.49" r="1.5" fill="#000"/>
<circle cx="543.17" cy="163.79" r="1.5" fill="#000"/>
<circle cx="556.53" cy="147.19" r="1.5" fill="#000"/>
<circle cx="556.53" cy="163.79" r="1.5" fill="#000"/>
<circle cx="569.88" cy="147.19" r="1.5" fill="#000"/>
<circle cx="569.88" cy="163.79" r="1.5" fill="#000"/>
<circle cx="583.24" cy="130.59" r="1.5" fill="#000"/>
<circle cx="583.24" cy="159.64" r="1.5" fill="#000"/>
<circle cx="583.24" cy="163.79" r="1.5" fill="#000"/>
<circle cx="596.60" cy="43.44" r="1.5" fill="#000"/>
<circle cx="596.60" cy="118.14" r="1.5" fill="#000"/>
<circle cx="596.60" cy="138.89" r="1.5" fill="#000"/>
<circle cx="596.60" cy="143.04" r="1.5" fill="#000"/>
<circle cx="596.60" cy="155.49" r="1.5" fill="#000"/>
<circle cx="596.60" cy="159.64" r="1.5" fill="#000"/>
<circle cx="596.60" cy="163.79" r="1.5" fill="#000"/>
<circle cx="609.96" cy="51.74" r="1.5" fill="#000"/>
<circle cx="609.96" cy="89.09" r="1.5" fill="#000"/>
<circle cx="609.96" cy="101.54" r="1.5" fill="#000"/>
<circle cx="609.96" cy="143.04" r="1.5" fill="#000"/>
<circle cx="609.96" cy="147.19" r="1.5" fill="#000"/>
<circle cx="609.96" cy="159.64" r="1.5" fill="#000"/>
<circle cx="609.96" cy="163.79" r="1.5" fill="#000"/>
<circle cx="623.31" cy="22.69" r="1.5" fill="#000"/>
<circle cx="623.31" cy="105.69" r="1.5" fill="#000"/>
<circle cx="623.31" cy="126.44" r="1.5" fill="#000"/>
<circle cx="623.31" cy="138.89" r="1.5" fill="#000"/>
<circle cx="623.31" cy="155.49" r="1.5" fill="#000"/>
<circle cx="623.31" cy="159.64" r="1.5" fill="#000"/>
<circle cx="623.31" cy="163.79" r="1.5" fill="#000"/>
<circle cx="636.67" cy="43.44" r="1.5" fill="#000"/>
<circle cx="636.67" cy="109.84" r="1.5" fill="#000"/>
<circle cx="636.67" cy="143.04" r="1.5" fill="#000"/>
<circle cx="636.67" cy="147.19" r="1.5" fill="#000"/>
<circle cx="636.67" cy="155.49" r="1.5" fill="#000"/>
<circle cx="636.67" cy="159.64" r="1.5" fill="#000"/>
<circle cx="636.67" cy="163.79" r="1.5" fill="#000"/>
<circle cx="650.03" cy="113.99" r="1.5" fill="#000"/>
<circle cx="650.03" cy="126.44" r="1.5" fill="#000"/>
<circle cx="650.03" cy="143.04" r="1.5" fill="#000"/>
<circle cx="650.03" cy="147.19" r="1.5" fill="#000"/>
<circle cx="650.03" cy="151.34" r="1.5" fill="#000"/>
<circle cx="650.03" cy="155.49" r="1.5" fill="#000"/>
<circle cx="650.03" cy="159.64" r="1.5" fill="#000"/>
<circle cx="650.03" cy="163.79" r="1.5" fill="#000"/>
<circle cx="663.38" cy="113.99" r="1.5" fill="#000"/>
<circle cx="663.38" cy="126.44" r="1.5" fill="#000"/>
<circle cx="663.38" cy="143.04" r="1.5" fill="#000"/>
<circle cx="663.38" cy="147.19" r="1.5" fill="#000"/>
<circle cx="663.38" cy="151.34" r="1.5" fill="#000"/>
<circle cx="663.38" cy="155.49" r="1.5" fill="#000"/>
<circle cx="663.38" cy="159.64" r="1.5" fill="#000"/>
<circle cx="663.38" cy="163.79" r="1.5" fill="#000"/>
<circle cx="676.74" cy="118.14" r="1.5" fill="#000"/>
<circle cx="676.74" cy="134.74" r="1.5" fill="#000"/>
<circle cx="676.74" cy="138.89" r="1.5" fill="#000"/>
<circle cx="676.74" cy="155.49" r="1.5" fill="#000"/>
<circle cx="676.74" cy="159.64" r="1.5" fill="#000"/>
<circle cx="676.74" cy="163.79" r="1.5" fill="#000"/>
<polygon points="369.53,140.84 370.87,140.83 372.20,140.82 373.54,140.80 374.87,140.77 376.21,140.75 377.54,140.73 378.88,140.72 380.22,140.72 381.55,140.73 382.89,140.76 384.22,140.79 385.56,140.84 386.89,140.89 388.23,140.94 389.57,141.01 390.90,141.09 392.24,141.17 393.57,141.27 394.91,141.38 396.24,141.50 397.58,141.64 398.92,141.78 400.25,141.94 401.59,142.11 402.92,142.29 404.26,142.48 405.59,142.68 406.93,142.88 408.27,143.10 409.60,143.33 410.94,143.57 412.27,143.82 413.61,144.09 414.94,144.36 416.28,144.65 417.62,144.94 418.95,145.24 420.29,145.54 421.62,145.85 422.96,146.15 424.29,146.47 425.63,146.79 426.97,147.12 428.30,147.45 429.64,147.79 430.97,148.14 432.31,148.48 433.64,148.81 434.98,149.15 436.31,149.47 437.65,149.79 438.99,150.11 440.32,150.43 441.66,150.74 442.99,151.05 444.33,151.36 445.66,151.67 447.00,151.98 448.34,152.28 449.67,152.58 451.01,152.89 452.34,153.19 453.68,153.49 455.01,153.79 456.35,154.09 457.69,154.38 459.02,154.67 460.36,154.95 461.69,155.23 463.03,155.49 464.36,155.75 465.70,156.00 467.04,156.25 468.37,156.49 469.71,156.72 471.04,156.95 472.38,157.17 473.71,157.38 475.05,157.58 476.39,157.77 477.72,157.96 479.06,158.13 480.39,158.30 481.73,158.46 483.06,158.62 484.40,158.76 485.74,158.89 487.07,159.01 488.41,159.13 489.74,159.22 491.08,159.31 492.41,159.38 493.75,159.44 495.09,159.49 496.42,159.52 497.76,159.55 499.09,159.58 500.43,159.60 501.76,159.62 503.10,159.64 504.44,159.66 505.77,159.67 507.11,159.68 508.44,159.69 509.78,159.69 511.11,159.69 512.45,159.68 513.79,159.67 515.12,159.66 516.46,159.64 517.79,159.62 519.13,159.60 520.46,159.57 521.80,159.54 523.14,159.51 524.47,159.47 525.81,159.42 527.14,159.37 528.48,159.30 529.81,159.22 531.15,159.14 532.49,159.04 533.82,158.94 535.16,158.83 536.49,158.71 537.83,158.58 539.16,158.44 540.50,158.30 541.84,158.14 543.17,157.98 544.51,157.81 545.84,157.63 547.18,157.44 548.51,157.25 549.85,157.05 551.19,156.83 552.52,156.61 553.86,156.39 555.19,156.15 556.53,155.91 557.86,155.65 559.20,155.38 560.54,155.11 561.87,154.82 563.21,154.53 564.54,154.23 565.88,153.93 567.21,153.62 568.55,153.31 569.88,153.00 571.22,152.69 572.56,152.39 573.89,152.09 575.23,151.78 576.56,151.47 577.90,151.15 579.23,150.81 580.57,150.46 581.91,150.08 583.24,149.68 584.58,149.24 585.91,148.76 587.25,148.26 588.58,147.73 589.92,147.19 591.26,146.65 592.59,146.12 593.93,145.62 595.26,145.14 596.60,144.70 597.93,144.30 599.27,143.91 600.61,143.55 601.94,143.20 603.28,142.87 604.61,142.55 605.95,142.25 607.28,141.95 608.62,141.66 609.96,141.38 611.29,141.10 612.63,140.84 613.96,140.58 615.30,140.33 616.63,140.09 617.97,139.86 619.31,139.65 620.64,139.45 621.98,139.27 623.31,139.10 624.65,138.94 625.98,138.81 627.32,138.68 628.66,138.57 629.99,138.47 631.33,138.39 632.66,138.32 634.00,138.26 635.33,138.22 636.67,138.18 638.01,138.16 639.34,138.15 640.68,138.14 642.01,138.15 643.35,138.18 644.68,138.22 646.02,138.28 647.36,138.36 648.69,138.47 650.03,138.60 651.36,138.76 652.70,138.96 654.03,139.18 655.37,139.42 656.71,139.68 658.04,139.95 659.38,140.24 660.71,140.54 662.05,140.83 663.38,141.13 664.72,141.45 666.06,141.81 667.39,142.20 668.73,142.59 670.06,142.99 671.40,143.38 672.73,143.74 674.07,144.06 675.41,144.33 676.74,144.53 676.74,163.62 675.41,162.97 674.07,162.10 672.73,161.06 671.40,159.89 670.06,158.66 668.73,157.40 667.39,156.17 666.06,155.02 664.72,154.01 663.38,153.17 662.05,152.48 660.71,151.87 659.38,151.34 658.04,150.88 656.71,150.47 655.37,150.11 654.03,149.79 652.70,149.50 651.36,149.23 650.03,148.97 648.69,148.75 647.36,148.57 646.02,148.44 644.68,148.34 643.35,148.27 642.01,148.22 640.68,148.19 639.34,148.17 638.01,148.16 636.67,148.14 635.33,148.13 634.00,148.14 632.66,148.15 631.33,148.18 629.99,148.22 628.66,148.28 627.32,148.35 625.98,148.43 624.65,148.53 623.31,148.64 621.98,148.77 620.64,148.91 619.31,149.06 617.97,149.22 616.63,149.40 615.30,149.59 613.96,149.80 612.63,150.02 611.29,150.26 609.96,150.51 608.62,150.78 607.28,151.05 605.95,151.35 604.61,151.65 603.28,151.98 601.94,152.31 600.61,152.67 599.27,153.04 597.93,153.42 596.60,153.83 595.26,154.27 593.93,154.75 592.59,155.25 591.26,155.78 589.92,156.32 588.58,156.86 587.25,157.39 585.91,157.89 584.58,158.37 583.24,158.81 581.91,159.21 580.57,159.59 579.23,159.94 577.90,160.28 576.56,160.60 575.23,160.91 573.89,161.22 572.56,161.52 571.22,161.82 569.88,162.13 568.55,162.44 567.21,162.75 565.88,163.06 564.54,163.36 563.21,163.66 561.87,163.95 560.54,164.24 559.20,164.51 557.86,164.78 556.53,165.03 555.19,165.28 553.86,165.52 552.52,165.74 551.19,165.96 549.85,166.18 548.51,166.38 547.18,166.57 545.84,166.76 544.51,166.94 543.17,167.11 541.84,167.27 540.50,167.43 539.16,167.57 537.83,167.71 536.49,167.84 535.16,167.96 533.82,168.07 532.49,168.17 531.15,168.27 529.81,168.35 528.48,168.43 527.14,168.50 525.81,168.55 524.47,168.60 523.14,168.64 521.80,168.67 520.46,168.70 519.13,168.73 517.79,168.75 516.46,168.77 515.12,168.79 513.79,168.80 512.45,168.81 511.11,168.82 509.78,168.82 508.44,168.82 507.11,168.81 505.77,168.80 504.44,168.79 503.10,168.77 501.76,168.75 500.43,168.73 499.09,168.71 497.76,168.68 496.42,168.65 495.09,168.62 493.75,168.57 492.41,168.51 491.08,168.44 489.74,168.35 488.41,168.26 487.07,168.14 485.74,168.02 484.40,167.89 483.06,167.75 481.73,167.59 480.39,167.43 479.06,167.26 477.72,167.09 476.39,166.90 475.05,166.71 473.71,166.51 472.38,166.30 471.04,166.08 469.71,165.85 468.37,165.62 467.04,165.38 465.70,165.13 464.36,164.88 463.03,164.62 461.69,164.36 460.36,164.08 459.02,163.80 457.69,163.51 456.35,163.22 455.01,162.92 453.68,162.62 452.34,162.32 451.01,162.02 449.67,161.72 448.34,161.41 447.00,161.10 445.66,160.79 444.33,160.47 442.99,160.16 441.66,159.84 440.32,159.53 438.99,159.22 437.65,158.91 436.31,158.60 434.98,158.30 433.64,158.00 432.31,157.70 430.97,157.40 429.64,157.11 428.30,156.81 426.97,156.53 425.63,156.24 424.29,155.97 422.96,155.70 421.62,155.43 420.29,155.16 418.95,154.89 417.62,154.63 416.28,154.37 414.94,154.13 413.61,153.89 412.27,153.67 410.94,153.47 409.60,153.29 408.27,153.12 406.93,152.96 405.59,152.81 404.26,152.68 402.92,152.56 401.59,152.46 400.25,152.38 398.92,152.32 397.58,152.29 396.24,152.29 394.91,152.32 393.57,152.36 392.24,152.42 390.90,152.50 389.57,152.61 388.23,152.74 386.89,152.91 385.56,153.11 384.22,153.34 382.89,153.62 381.55,153.97 380.22,154.41 378.88,154.92 377.54,155.47 376.21,156.03 374.87,156.59 373.54,157.11 372.20,157.59 370.87,157.98 369.53,158.27" fill="#d5d5d5" fill-opacity="0.24"/>
<polyline points="369.53,149.56 370.87,149.41 372.20,149.20 373.54,148.95 374.87,148.68 376.21,148.39 377.54,148.10 378.88,147.82 380.22,147.57 381.55,147.35 382.89,147.19 384.22,147.07 385.56,146.97 386.89,146.90 388.23,146.84 389.57,146.81 390.90,146.79 392.24,146.80 393.57,146.82 394.91,146.85 396.24,146.90 397.58,146.97 398.92,147.05 400.25,147.16 401.59,147.28 402.92,147.42 404.26,147.58 405.59,147.75 406.93,147.92 408.27,148.11 409.60,148.31 410.94,148.52 412.27,148.75 413.61,148.99 414.94,149.25 416.28,149.51 417.62,149.79 418.95,150.07 420.29,150.35 421.62,150.64 422.96,150.92 424.29,151.22 425.63,151.52 426.97,151.82 428.30,152.13 429.64,152.45 430.97,152.77 432.31,153.09 433.64,153.41 434.98,153.72 436.31,154.04 437.65,154.35 438.99,154.66 440.32,154.98 441.66,155.29 442.99,155.61 444.33,155.92 445.66,156.23 447.00,156.54 448.34,156.85 449.67,157.15 451.01,157.45 452.34,157.75 453.68,158.06 455.01,158.36 456.35,158.65 457.69,158.95 459.02,159.24 460.36,159.52 461.69,159.79 463.03,160.05 464.36,160.31 465.70,160.56 467.04,160.81 468.37,161.05 469.71,161.29 471.04,161.51 472.38,161.73 473.71,161.94 475.05,162.15 476.39,162.34 477.72,162.52 479.06,162.70 480.39,162.87 481.73,163.03 483.06,163.18 484.40,163.32 485.74,163.46 487.07,163.58 488.41,163.69 489.74,163.79 491.08,163.88 492.41,163.95 493.75,164.00 495.09,164.05 496.42,164.09 497.76,164.12 499.09,164.14 500.43,164.17 501.76,164.18 503.10,164.20 504.44,164.22 505.77,164.24 507.11,164.25 508.44,164.25 509.78,164.26 511.11,164.25 512.45,164.25 513.79,164.24 515.12,164.22 516.46,164.20 517.79,164.18 519.13,164.16 520.46,164.14 521.80,164.11 523.14,164.08 524.47,164.04 525.81,163.99 527.14,163.93 528.48,163.87 529.81,163.79 531.15,163.70 532.49,163.61 533.82,163.50 535.16,163.39 536.49,163.27 537.83,163.14 539.16,163.01 540.50,162.86 541.84,162.71 543.17,162.54 544.51,162.37 545.84,162.20 547.18,162.01 548.51,161.81 549.85,161.61 551.19,161.40 552.52,161.18 553.86,160.95 555.19,160.71 556.53,160.47 557.86,160.21 559.20,159.95 560.54,159.67 561.87,159.39 563.21,159.10 564.54,158.80 565.88,158.49 567.21,158.19 568.55,157.88 569.88,157.56 571.22,157.26 572.56,156.95 573.89,156.65 575.23,156.35 576.56,156.03 577.90,155.71 579.23,155.38 580.57,155.02 581.91,154.65 583.24,154.25 584.58,153.81 585.91,153.33 587.25,152.82 588.58,152.29 589.92,151.75 591.26,151.22 592.59,150.69 593.93,150.18 595.26,149.70 596.60,149.26 597.93,148.86 599.27,148.47 600.61,148.11 601.94,147.76 603.28,147.42 604.61,147.10 605.95,146.80 607.28,146.50 608.62,146.22 609.96,145.94 611.29,145.68 612.63,145.43 613.96,145.19 615.30,144.96 616.63,144.74 617.97,144.54 619.31,144.35 620.64,144.18 621.98,144.02 623.31,143.87 624.65,143.74 625.98,143.62 627.32,143.52 628.66,143.43 629.99,143.35 631.33,143.29 632.66,143.24 634.00,143.20 635.33,143.18 636.67,143.16 638.01,143.16 639.34,143.16 640.68,143.17 642.01,143.19 643.35,143.22 644.68,143.28 646.02,143.36 647.36,143.47 648.69,143.61 650.03,143.79 651.36,144.00 652.70,144.23 654.03,144.48 655.37,144.76 656.71,145.07 658.04,145.42 659.38,145.79 660.71,146.20 662.05,146.66 663.38,147.15 664.72,147.73 666.06,148.42 667.39,149.18 668.73,150.00 670.06,150.82 671.40,151.63 672.73,152.40 674.07,153.08 675.41,153.65 676.74,154.08" fill="none" stroke="#3366ff" stroke-width="1.3"/>
<path d="M361.5,15.8V175.8H684.3" fill="none" stroke="#3a3a3a" stroke-width="0.9"/>
<path d="M359.3,163.79H361.5" stroke="#3a3a3a" stroke-width="1.0"/>
<text transform="translate(358.20,166.14) scale(0.92,1)" font-size="6.5" fill="#444" text-anchor="end">0</text>
<path d="M359.3,122.29H361.5" stroke="#3a3a3a" stroke-width="1.0"/>
<text transform="translate(358.20,124.64) scale(0.92,1)" font-size="6.5" fill="#444" text-anchor="end">10</text>
<path d="M359.3,80.79H361.5" stroke="#3a3a3a" stroke-width="1.0"/>
<text transform="translate(358.20,83.14) scale(0.92,1)" font-size="6.5" fill="#444" text-anchor="end">20</text>
<path d="M359.3,39.29H361.5" stroke="#3a3a3a" stroke-width="1.0"/>
<text transform="translate(358.20,41.64) scale(0.92,1)" font-size="6.5" fill="#444" text-anchor="end">30</text>
<path d="M369.53,175.8V178.0" stroke="#3a3a3a" stroke-width="1.0"/>
<path d="M382.89,175.8V178.0" stroke="#3a3a3a" stroke-width="1.0"/>
<path d="M396.24,175.8V178.0" stroke="#3a3a3a" stroke-width="1.0"/>
<path d="M409.60,175.8V178.0" stroke="#3a3a3a" stroke-width="1.0"/>
<path d="M422.96,175.8V178.0" stroke="#3a3a3a" stroke-width="1.0"/>
<path d="M436.31,175.8V178.0" stroke="#3a3a3a" stroke-width="1.0"/>
<path d="M449.67,175.8V178.0" stroke="#3a3a3a" stroke-width="1.0"/>
<path d="M463.03,175.8V178.0" stroke="#3a3a3a" stroke-width="1.0"/>
<path d="M476.39,175.8V178.0" stroke="#3a3a3a" stroke-width="1.0"/>
<path d="M489.74,175.8V178.0" stroke="#3a3a3a" stroke-width="1.0"/>
<path d="M503.10,175.8V178.0" stroke="#3a3a3a" stroke-width="1.0"/>
<path d="M516.46,175.8V178.0" stroke="#3a3a3a" stroke-width="1.0"/>
<path d="M529.81,175.8V178.0" stroke="#3a3a3a" stroke-width="1.0"/>
<path d="M543.17,175.8V178.0" stroke="#3a3a3a" stroke-width="1.0"/>
<path d="M556.53,175.8V178.0" stroke="#3a3a3a" stroke-width="1.0"/>
<path d="M569.88,175.8V178.0" stroke="#3a3a3a" stroke-width="1.0"/>
<path d="M583.24,175.8V178.0" stroke="#3a3a3a" stroke-width="1.0"/>
<path d="M596.60,175.8V178.0" stroke="#3a3a3a" stroke-width="1.0"/>
<path d="M609.96,175.8V178.0" stroke="#3a3a3a" stroke-width="1.0"/>
<path d="M623.31,175.8V178.0" stroke="#3a3a3a" stroke-width="1.0"/>
<path d="M636.67,175.8V178.0" stroke="#3a3a3a" stroke-width="1.0"/>
<path d="M650.03,175.8V178.0" stroke="#3a3a3a" stroke-width="1.0"/>
<path d="M663.38,175.8V178.0" stroke="#3a3a3a" stroke-width="1.0"/>
<path d="M676.74,175.8V178.0" stroke="#3a3a3a" stroke-width="1.0"/>
<text x="353.3" y="4.6" font-size="6.6" font-weight="bold">B</text>
<text x="362.1" y="10.0" font-size="8.65" font-style="italic" fill="#1a1a1a">Anopheles maculatus</text>
<rect x="21.5" y="197.0" width="81.80" height="153.30" fill="#dedede"/>
<rect x="103.30" y="197.0" width="146.80" height="153.30" fill="#fae4d6"/>
<rect x="250.10" y="197.0" width="94.00" height="153.30" fill="#dedede"/>
<mask id="m5"><rect x="48.6" y="196.9" width="30" height="30" fill="#fff"/><circle cx="67.50" cy="209.40" r="9.2" fill="#000"/></mask>
<circle cx="63.60" cy="211.90" r="10.6" fill="#000" mask="url(#m5)"/>
<mask id="m6"><rect x="287.70000000000005" y="197.3" width="30" height="30" fill="#fff"/><circle cx="306.60" cy="209.80" r="9.2" fill="#000"/></mask>
<circle cx="302.70" cy="212.30" r="10.6" fill="#000" mask="url(#m6)"/>
<radialGradient id="rg177" gradientUnits="userSpaceOnUse" cx="176.6" cy="214.7" r="13"><stop offset="0.55" stop-color="#ffc000"/><stop offset="0.75" stop-color="#ffd000"/><stop offset="1" stop-color="#ffe040"/></radialGradient><path d="M177.34,208.14L180.28,203.28L179.83,208.95ZM180.52,209.39L185.50,206.65L182.28,211.33ZM182.65,212.06L188.33,212.18L183.20,214.62ZM183.16,215.44L188.02,218.38L182.35,217.93ZM181.91,218.62L184.65,223.60L179.97,220.38ZM179.24,220.75L179.12,226.43L176.68,221.30ZM175.86,221.26L172.92,226.12L173.37,220.45ZM172.68,220.01L167.70,222.75L170.92,218.07ZM170.55,217.34L164.87,217.22L170.00,214.78ZM170.04,213.96L165.18,211.02L170.85,211.47ZM171.29,210.78L168.55,205.80L173.23,209.02ZM173.96,208.65L174.08,202.97L176.52,208.10Z" fill="url(#rg177)"/><path d="M175.61,208.17L177.28,201.12L178.23,208.31ZM179.01,208.56L183.98,203.28L181.21,209.98ZM181.76,210.58L188.70,208.50L182.95,212.92ZM183.13,213.71L190.18,215.38L182.99,216.33ZM182.74,217.11L188.02,222.08L181.32,219.31ZM180.72,219.86L182.80,226.80L178.38,221.05ZM177.59,221.23L175.92,228.28L174.97,221.09ZM174.19,220.84L169.22,226.12L171.99,219.42ZM171.44,218.82L164.50,220.90L170.25,216.48ZM170.07,215.69L163.02,214.02L170.21,213.07ZM170.46,212.29L165.18,207.32L171.88,210.09ZM172.48,209.54L170.40,202.60L174.82,208.35Z" fill="url(#rg177)"/><circle cx="176.6" cy="214.7" r="7.2" fill="url(#sg)"/>
<polygon points="29.30,314.95 30.64,315.05 31.97,315.19 33.31,315.35 34.64,315.53 35.98,315.73 37.31,315.93 38.65,316.13 39.99,316.33 41.32,316.52 42.66,316.69 43.99,316.85 45.33,317.01 46.66,317.16 48.00,317.30 49.34,317.45 50.67,317.59 52.01,317.74 53.34,317.88 54.68,318.04 56.01,318.19 57.35,318.34 58.69,318.49 60.02,318.64 61.36,318.79 62.69,318.94 64.03,319.10 65.36,319.26 66.70,319.44 68.04,319.64 69.37,319.85 70.71,320.09 72.04,320.35 73.38,320.63 74.71,320.91 76.05,321.21 77.39,321.52 78.72,321.82 80.06,322.12 81.39,322.40 82.73,322.68 84.06,322.94 85.40,323.19 86.74,323.44 88.07,323.68 89.41,323.92 90.74,324.16 92.08,324.40 93.41,324.65 94.75,324.91 96.08,325.17 97.42,325.45 98.76,325.73 100.09,326.03 101.43,326.33 102.76,326.63 104.10,326.93 105.43,327.23 106.77,327.52 108.11,327.81 109.44,328.08 110.78,328.34 112.11,328.60 113.45,328.86 114.78,329.11 116.12,329.36 117.46,329.60 118.79,329.83 120.13,330.06 121.46,330.28 122.80,330.49 124.13,330.69 125.47,330.89 126.81,331.08 128.14,331.27 129.48,331.45 130.81,331.62 132.15,331.78 133.48,331.94 134.82,332.09 136.16,332.24 137.49,332.37 138.83,332.51 140.16,332.64 141.50,332.76 142.83,332.87 144.17,332.98 145.51,333.07 146.84,333.16 148.18,333.24 149.51,333.32 150.85,333.38 152.18,333.43 153.52,333.47 154.86,333.50 156.19,333.52 157.53,333.54 158.86,333.55 160.20,333.56 161.53,333.56 162.87,333.57 164.21,333.56 165.54,333.56 166.88,333.54 168.21,333.53 169.55,333.50 170.88,333.48 172.22,333.44 173.56,333.41 174.89,333.36 176.23,333.32 177.56,333.26 178.90,333.21 180.23,333.15 181.57,333.08 182.91,333.01 184.24,332.93 185.58,332.85 186.91,332.76 188.25,332.67 189.58,332.57 190.92,332.46 192.26,332.36 193.59,332.25 194.93,332.13 196.26,332.01 197.60,331.88 198.93,331.74 200.27,331.58 201.61,331.42 202.94,331.24 204.28,331.04 205.61,330.83 206.95,330.61 208.28,330.38 209.62,330.14 210.96,329.89 212.29,329.63 213.63,329.36 214.96,329.10 216.30,328.83 217.63,328.55 218.97,328.27 220.31,327.99 221.64,327.69 222.98,327.39 224.31,327.09 225.65,326.78 226.98,326.47 228.32,326.16 229.66,325.84 230.99,325.51 232.33,325.18 233.66,324.85 235.00,324.51 236.33,324.17 237.67,323.82 239.00,323.48 240.34,323.13 241.68,322.78 243.01,322.43 244.35,322.07 245.68,321.71 247.02,321.35 248.35,320.98 249.69,320.61 251.03,320.24 252.36,319.88 253.70,319.52 255.03,319.18 256.37,318.86 257.70,318.54 259.04,318.23 260.38,317.94 261.71,317.65 263.05,317.36 264.38,317.09 265.72,316.82 267.05,316.55 268.39,316.29 269.73,316.03 271.06,315.77 272.40,315.53 273.73,315.28 275.07,315.04 276.40,314.81 277.74,314.58 279.08,314.35 280.41,314.13 281.75,313.92 283.08,313.70 284.42,313.49 285.75,313.27 287.09,313.05 288.43,312.84 289.76,312.63 291.10,312.43 292.43,312.24 293.77,312.07 295.10,311.92 296.44,311.79 297.78,311.68 299.11,311.59 300.45,311.51 301.78,311.44 303.12,311.39 304.45,311.36 305.79,311.34 307.13,311.33 308.46,311.35 309.80,311.38 311.13,311.42 312.47,311.50 313.80,311.59 315.14,311.70 316.48,311.82 317.81,311.95 319.15,312.09 320.48,312.24 321.82,312.39 323.15,312.54 324.49,312.70 325.83,312.89 327.16,313.10 328.50,313.31 329.83,313.53 331.17,313.74 332.50,313.93 333.84,314.11 335.18,314.26 336.51,314.37 336.51,334.31 335.18,333.87 333.84,333.28 332.50,332.58 331.17,331.79 329.83,330.96 328.50,330.10 327.16,329.27 325.83,328.48 324.49,327.76 323.15,327.17 321.82,326.66 320.48,326.19 319.15,325.76 317.81,325.37 316.48,325.02 315.14,324.70 313.80,324.41 312.47,324.14 311.13,323.90 309.80,323.68 308.46,323.48 307.13,323.31 305.79,323.17 304.45,323.06 303.12,322.97 301.78,322.92 300.45,322.88 299.11,322.87 297.78,322.89 296.44,322.93 295.10,323.00 293.77,323.11 292.43,323.25 291.10,323.42 289.76,323.61 288.43,323.81 287.09,324.03 285.75,324.25 284.42,324.46 283.08,324.67 281.75,324.88 280.41,325.10 279.08,325.32 277.74,325.55 276.40,325.78 275.07,326.02 273.73,326.26 272.40,326.50 271.06,326.75 269.73,327.00 268.39,327.25 267.05,327.50 265.72,327.76 264.38,328.02 263.05,328.28 261.71,328.55 260.38,328.82 259.04,329.10 257.70,329.38 256.37,329.66 255.03,329.95 253.70,330.25 252.36,330.55 251.03,330.86 249.69,331.17 248.35,331.48 247.02,331.80 245.68,332.11 244.35,332.43 243.01,332.73 241.68,333.04 240.34,333.35 239.00,333.66 237.67,333.97 236.33,334.28 235.00,334.59 233.66,334.89 232.33,335.20 230.99,335.51 229.66,335.81 228.32,336.11 226.98,336.42 225.65,336.73 224.31,337.04 222.98,337.35 221.64,337.65 220.31,337.95 218.97,338.24 217.63,338.53 216.30,338.80 214.96,339.07 213.63,339.34 212.29,339.60 210.96,339.86 209.62,340.11 208.28,340.35 206.95,340.59 205.61,340.81 204.28,341.02 202.94,341.21 201.61,341.39 200.27,341.56 198.93,341.71 197.60,341.85 196.26,341.98 194.93,342.10 193.59,342.22 192.26,342.33 190.92,342.44 189.58,342.54 188.25,342.64 186.91,342.74 185.58,342.82 184.24,342.91 182.91,342.98 181.57,343.05 180.23,343.12 178.90,343.18 177.56,343.24 176.23,343.29 174.89,343.34 173.56,343.38 172.22,343.42 170.88,343.45 169.55,343.48 168.21,343.50 166.88,343.52 165.54,343.53 164.21,343.54 162.87,343.54 161.53,343.54 160.20,343.53 158.86,343.53 157.53,343.51 156.19,343.50 154.86,343.47 153.52,343.44 152.18,343.40 150.85,343.35 149.51,343.29 148.18,343.22 146.84,343.14 145.51,343.05 144.17,342.95 142.83,342.84 141.50,342.73 140.16,342.61 138.83,342.48 137.49,342.35 136.16,342.21 134.82,342.06 133.48,341.91 132.15,341.76 130.81,341.59 129.48,341.42 128.14,341.24 126.81,341.06 125.47,340.87 124.13,340.67 122.80,340.46 121.46,340.25 120.13,340.03 118.79,339.79 117.46,339.56 116.12,339.31 114.78,339.06 113.45,338.81 112.11,338.56 110.78,338.30 109.44,338.05 108.11,337.80 106.77,337.54 105.43,337.27 104.10,337.01 102.76,336.74 101.43,336.47 100.09,336.21 98.76,335.96 97.42,335.71 96.08,335.48 94.75,335.25 93.41,335.04 92.08,334.84 90.74,334.64 89.41,334.44 88.07,334.25 86.74,334.06 85.40,333.87 84.06,333.68 82.73,333.48 81.39,333.28 80.06,333.06 78.72,332.85 77.39,332.63 76.05,332.41 74.71,332.20 73.38,332.00 72.04,331.81 70.71,331.64 69.37,331.49 68.04,331.35 66.70,331.22 65.36,331.10 64.03,330.98 62.69,330.89 61.36,330.80 60.02,330.74 58.69,330.69 57.35,330.66 56.01,330.66 54.68,330.67 53.34,330.70 52.01,330.75 50.67,330.82 49.34,330.90 48.00,331.01 46.66,331.13 45.33,331.28 43.99,331.46 42.66,331.65 41.32,331.90 39.99,332.21 38.65,332.56 37.31,332.94 35.98,333.34 34.64,333.72 33.31,334.09 31.97,334.42 30.64,334.69 29.30,334.90" fill="#d5d5d5"/>
<circle cx="29.30" cy="228.85" r="1.5" fill="#000"/>
<circle cx="29.30" cy="295.33" r="1.5" fill="#000"/>
<circle cx="29.30" cy="328.58" r="1.5" fill="#000"/>
<circle cx="29.30" cy="336.89" r="1.5" fill="#000"/>
<circle cx="42.66" cy="262.09" r="1.5" fill="#000"/>
<circle cx="42.66" cy="303.65" r="1.5" fill="#000"/>
<circle cx="42.66" cy="336.89" r="1.5" fill="#000"/>
<circle cx="56.01" cy="270.40" r="1.5" fill="#000"/>
<circle cx="56.01" cy="311.96" r="1.5" fill="#000"/>
<circle cx="56.01" cy="320.27" r="1.5" fill="#000"/>
<circle cx="56.01" cy="336.89" r="1.5" fill="#000"/>
<circle cx="69.37" cy="295.33" r="1.5" fill="#000"/>
<circle cx="69.37" cy="303.65" r="1.5" fill="#000"/>
<circle cx="69.37" cy="328.58" r="1.5" fill="#000"/>
<circle cx="69.37" cy="336.89" r="1.5" fill="#000"/>
<circle cx="82.73" cy="320.27" r="1.5" fill="#000"/>
<circle cx="82.73" cy="328.58" r="1.5" fill="#000"/>
<circle cx="82.73" cy="336.89" r="1.5" fill="#000"/>
<circle cx="96.08" cy="311.96" r="1.5" fill="#000"/>
<circle cx="96.08" cy="320.27" r="1.5" fill="#000"/>
<circle cx="96.08" cy="328.58" r="1.5" fill="#000"/>
<circle cx="96.08" cy="336.89" r="1.5" fill="#000"/>
<circle cx="109.44" cy="295.33" r="1.5" fill="#000"/>
<circle cx="109.44" cy="311.96" r="1.5" fill="#000"/>
<circle cx="109.44" cy="328.58" r="1.5" fill="#000"/>
<circle cx="109.44" cy="336.89" r="1.5" fill="#000"/>
<circle cx="122.80" cy="320.27" r="1.5" fill="#000"/>
<circle cx="122.80" cy="336.89" r="1.5" fill="#000"/>
<circle cx="136.16" cy="328.58" r="1.5" fill="#000"/>
<circle cx="136.16" cy="336.89" r="1.5" fill="#000"/>
<circle cx="149.51" cy="320.27" r="1.5" fill="#000"/>
<circle cx="149.51" cy="328.58" r="1.5" fill="#000"/>
<circle cx="149.51" cy="336.89" r="1.5" fill="#000"/>
<circle cx="162.87" cy="336.89" r="1.5" fill="#000"/>
<circle cx="176.23" cy="336.89" r="1.5" fill="#000"/>
<circle cx="189.58" cy="336.89" r="1.5" fill="#000"/>
<circle cx="202.94" cy="320.27" r="1.5" fill="#000"/>
<circle cx="202.94" cy="336.89" r="1.5" fill="#000"/>
<circle cx="216.30" cy="336.89" r="1.5" fill="#000"/>
<circle cx="229.66" cy="328.58" r="1.5" fill="#000"/>
<circle cx="229.66" cy="336.89" r="1.5" fill="#000"/>
<circle cx="243.01" cy="336.89" r="1.5" fill="#000"/>
<circle cx="256.37" cy="220.54" r="1.5" fill="#000"/>
<circle cx="256.37" cy="295.33" r="1.5" fill="#000"/>
<circle cx="256.37" cy="328.58" r="1.5" fill="#000"/>
<circle cx="256.37" cy="336.89" r="1.5" fill="#000"/>
<circle cx="269.73" cy="203.91" r="1.5" fill="#000"/>
<circle cx="269.73" cy="245.47" r="1.5" fill="#000"/>
<circle cx="269.73" cy="303.65" r="1.5" fill="#000"/>
<circle cx="269.73" cy="328.58" r="1.5" fill="#000"/>
<circle cx="269.73" cy="336.89" r="1.5" fill="#000"/>
<circle cx="283.08" cy="203.91" r="1.5" fill="#000"/>
<circle cx="283.08" cy="262.09" r="1.5" fill="#000"/>
<circle cx="283.08" cy="303.65" r="1.5" fill="#000"/>
<circle cx="283.08" cy="328.58" r="1.5" fill="#000"/>
<circle cx="283.08" cy="336.89" r="1.5" fill="#000"/>
<circle cx="296.44" cy="253.78" r="1.5" fill="#000"/>
<circle cx="296.44" cy="295.33" r="1.5" fill="#000"/>
<circle cx="296.44" cy="328.58" r="1.5" fill="#000"/>
<circle cx="296.44" cy="336.89" r="1.5" fill="#000"/>
<circle cx="309.80" cy="262.09" r="1.5" fill="#000"/>
<circle cx="309.80" cy="303.65" r="1.5" fill="#000"/>
<circle cx="309.80" cy="311.96" r="1.5" fill="#000"/>
<circle cx="309.80" cy="336.89" r="1.5" fill="#000"/>
<circle cx="323.15" cy="270.40" r="1.5" fill="#000"/>
<circle cx="323.15" cy="278.71" r="1.5" fill="#000"/>
<circle cx="323.15" cy="311.96" r="1.5" fill="#000"/>
<circle cx="323.15" cy="320.27" r="1.5" fill="#000"/>
<circle cx="323.15" cy="336.89" r="1.5" fill="#000"/>
<circle cx="336.51" cy="262.09" r="1.5" fill="#000"/>
<circle cx="336.51" cy="303.65" r="1.5" fill="#000"/>
<circle cx="336.51" cy="320.27" r="1.5" fill="#000"/>
<circle cx="336.51" cy="328.58" r="1.5" fill="#000"/>
<circle cx="336.51" cy="336.89" r="1.5" fill="#000"/>
<polygon points="29.30,314.95 30.64,315.05 31.97,315.19 33.31,315.35 34.64,315.53 35.98,315.73 37.31,315.93 38.65,316.13 39.99,316.33 41.32,316.52 42.66,316.69 43.99,316.85 45.33,317.01 46.66,317.16 48.00,317.30 49.34,317.45 50.67,317.59 52.01,317.74 53.34,317.88 54.68,318.04 56.01,318.19 57.35,318.34 58.69,318.49 60.02,318.64 61.36,318.79 62.69,318.94 64.03,319.10 65.36,319.26 66.70,319.44 68.04,319.64 69.37,319.85 70.71,320.09 72.04,320.35 73.38,320.63 74.71,320.91 76.05,321.21 77.39,321.52 78.72,321.82 80.06,322.12 81.39,322.40 82.73,322.68 84.06,322.94 85.40,323.19 86.74,323.44 88.07,323.68 89.41,323.92 90.74,324.16 92.08,324.40 93.41,324.65 94.75,324.91 96.08,325.17 97.42,325.45 98.76,325.73 100.09,326.03 101.43,326.33 102.76,326.63 104.10,326.93 105.43,327.23 106.77,327.52 108.11,327.81 109.44,328.08 110.78,328.34 112.11,328.60 113.45,328.86 114.78,329.11 116.12,329.36 117.46,329.60 118.79,329.83 120.13,330.06 121.46,330.28 122.80,330.49 124.13,330.69 125.47,330.89 126.81,331.08 128.14,331.27 129.48,331.45 130.81,331.62 132.15,331.78 133.48,331.94 134.82,332.09 136.16,332.24 137.49,332.37 138.83,332.51 140.16,332.64 141.50,332.76 142.83,332.87 144.17,332.98 145.51,333.07 146.84,333.16 148.18,333.24 149.51,333.32 150.85,333.38 152.18,333.43 153.52,333.47 154.86,333.50 156.19,333.52 157.53,333.54 158.86,333.55 160.20,333.56 161.53,333.56 162.87,333.57 164.21,333.56 165.54,333.56 166.88,333.54 168.21,333.53 169.55,333.50 170.88,333.48 172.22,333.44 173.56,333.41 174.89,333.36 176.23,333.32 177.56,333.26 178.90,333.21 180.23,333.15 181.57,333.08 182.91,333.01 184.24,332.93 185.58,332.85 186.91,332.76 188.25,332.67 189.58,332.57 190.92,332.46 192.26,332.36 193.59,332.25 194.93,332.13 196.26,332.01 197.60,331.88 198.93,331.74 200.27,331.58 201.61,331.42 202.94,331.24 204.28,331.04 205.61,330.83 206.95,330.61 208.28,330.38 209.62,330.14 210.96,329.89 212.29,329.63 213.63,329.36 214.96,329.10 216.30,328.83 217.63,328.55 218.97,328.27 220.31,327.99 221.64,327.69 222.98,327.39 224.31,327.09 225.65,326.78 226.98,326.47 228.32,326.16 229.66,325.84 230.99,325.51 232.33,325.18 233.66,324.85 235.00,324.51 236.33,324.17 237.67,323.82 239.00,323.48 240.34,323.13 241.68,322.78 243.01,322.43 244.35,322.07 245.68,321.71 247.02,321.35 248.35,320.98 249.69,320.61 251.03,320.24 252.36,319.88 253.70,319.52 255.03,319.18 256.37,318.86 257.70,318.54 259.04,318.23 260.38,317.94 261.71,317.65 263.05,317.36 264.38,317.09 265.72,316.82 267.05,316.55 268.39,316.29 269.73,316.03 271.06,315.77 272.40,315.53 273.73,315.28 275.07,315.04 276.40,314.81 277.74,314.58 279.08,314.35 280.41,314.13 281.75,313.92 283.08,313.70 284.42,313.49 285.75,313.27 287.09,313.05 288.43,312.84 289.76,312.63 291.10,312.43 292.43,312.24 293.77,312.07 295.10,311.92 296.44,311.79 297.78,311.68 299.11,311.59 300.45,311.51 301.78,311.44 303.12,311.39 304.45,311.36 305.79,311.34 307.13,311.33 308.46,311.35 309.80,311.38 311.13,311.42 312.47,311.50 313.80,311.59 315.14,311.70 316.48,311.82 317.81,311.95 319.15,312.09 320.48,312.24 321.82,312.39 323.15,312.54 324.49,312.70 325.83,312.89 327.16,313.10 328.50,313.31 329.83,313.53 331.17,313.74 332.50,313.93 333.84,314.11 335.18,314.26 336.51,314.37 336.51,334.31 335.18,333.87 333.84,333.28 332.50,332.58 331.17,331.79 329.83,330.96 328.50,330.10 327.16,329.27 325.83,328.48 324.49,327.76 323.15,327.17 321.82,326.66 320.48,326.19 319.15,325.76 317.81,325.37 316.48,325.02 315.14,324.70 313.80,324.41 312.47,324.14 311.13,323.90 309.80,323.68 308.46,323.48 307.13,323.31 305.79,323.17 304.45,323.06 303.12,322.97 301.78,322.92 300.45,322.88 299.11,322.87 297.78,322.89 296.44,322.93 295.10,323.00 293.77,323.11 292.43,323.25 291.10,323.42 289.76,323.61 288.43,323.81 287.09,324.03 285.75,324.25 284.42,324.46 283.08,324.67 281.75,324.88 280.41,325.10 279.08,325.32 277.74,325.55 276.40,325.78 275.07,326.02 273.73,326.26 272.40,326.50 271.06,326.75 269.73,327.00 268.39,327.25 267.05,327.50 265.72,327.76 264.38,328.02 263.05,328.28 261.71,328.55 260.38,328.82 259.04,329.10 257.70,329.38 256.37,329.66 255.03,329.95 253.70,330.25 252.36,330.55 251.03,330.86 249.69,331.17 248.35,331.48 247.02,331.80 245.68,332.11 244.35,332.43 243.01,332.73 241.68,333.04 240.34,333.35 239.00,333.66 237.67,333.97 236.33,334.28 235.00,334.59 233.66,334.89 232.33,335.20 230.99,335.51 229.66,335.81 228.32,336.11 226.98,336.42 225.65,336.73 224.31,337.04 222.98,337.35 221.64,337.65 220.31,337.95 218.97,338.24 217.63,338.53 216.30,338.80 214.96,339.07 213.63,339.34 212.29,339.60 210.96,339.86 209.62,340.11 208.28,340.35 206.95,340.59 205.61,340.81 204.28,341.02 202.94,341.21 201.61,341.39 200.27,341.56 198.93,341.71 197.60,341.85 196.26,341.98 194.93,342.10 193.59,342.22 192.26,342.33 190.92,342.44 189.58,342.54 188.25,342.64 186.91,342.74 185.58,342.82 184.24,342.91 182.91,342.98 181.57,343.05 180.23,343.12 178.90,343.18 177.56,343.24 176.23,343.29 174.89,343.34 173.56,343.38 172.22,343.42 170.88,343.45 169.55,343.48 168.21,343.50 166.88,343.52 165.54,343.53 164.21,343.54 162.87,343.54 161.53,343.54 160.20,343.53 158.86,343.53 157.53,343.51 156.19,343.50 154.86,343.47 153.52,343.44 152.18,343.40 150.85,343.35 149.51,343.29 148.18,343.22 146.84,343.14 145.51,343.05 144.17,342.95 142.83,342.84 141.50,342.73 140.16,342.61 138.83,342.48 137.49,342.35 136.16,342.21 134.82,342.06 133.48,341.91 132.15,341.76 130.81,341.59 129.48,341.42 128.14,341.24 126.81,341.06 125.47,340.87 124.13,340.67 122.80,340.46 121.46,340.25 120.13,340.03 118.79,339.79 117.46,339.56 116.12,339.31 114.78,339.06 113.45,338.81 112.11,338.56 110.78,338.30 109.44,338.05 108.11,337.80 106.77,337.54 105.43,337.27 104.10,337.01 102.76,336.74 101.43,336.47 100.09,336.21 98.76,335.96 97.42,335.71 96.08,335.48 94.75,335.25 93.41,335.04 92.08,334.84 90.74,334.64 89.41,334.44 88.07,334.25 86.74,334.06 85.40,333.87 84.06,333.68 82.73,333.48 81.39,333.28 80.06,333.06 78.72,332.85 77.39,332.63 76.05,332.41 74.71,332.20 73.38,332.00 72.04,331.81 70.71,331.64 69.37,331.49 68.04,331.35 66.70,331.22 65.36,331.10 64.03,330.98 62.69,330.89 61.36,330.80 60.02,330.74 58.69,330.69 57.35,330.66 56.01,330.66 54.68,330.67 53.34,330.70 52.01,330.75 50.67,330.82 49.34,330.90 48.00,331.01 46.66,331.13 45.33,331.28 43.99,331.46 42.66,331.65 41.32,331.90 39.99,332.21 38.65,332.56 37.31,332.94 35.98,333.34 34.64,333.72 33.31,334.09 31.97,334.42 30.64,334.69 29.30,334.90" fill="#d5d5d5" fill-opacity="0.24"/>
<polyline points="29.30,324.92 30.64,324.87 31.97,324.80 33.31,324.72 34.64,324.63 35.98,324.53 37.31,324.44 38.65,324.35 39.99,324.27 41.32,324.21 42.66,324.17 43.99,324.15 45.33,324.14 46.66,324.14 48.00,324.15 49.34,324.17 50.67,324.20 52.01,324.24 53.34,324.29 54.68,324.35 56.01,324.42 57.35,324.50 58.69,324.59 60.02,324.69 61.36,324.79 62.69,324.91 64.03,325.04 65.36,325.18 66.70,325.33 68.04,325.49 69.37,325.67 70.71,325.86 72.04,326.08 73.38,326.31 74.71,326.56 76.05,326.81 77.39,327.07 78.72,327.33 80.06,327.59 81.39,327.84 82.73,328.08 84.06,328.31 85.40,328.53 86.74,328.75 88.07,328.97 89.41,329.18 90.74,329.40 92.08,329.62 93.41,329.85 94.75,330.08 96.08,330.32 97.42,330.58 98.76,330.85 100.09,331.12 101.43,331.40 102.76,331.69 104.10,331.97 105.43,332.25 106.77,332.53 108.11,332.80 109.44,333.07 110.78,333.32 112.11,333.58 113.45,333.84 114.78,334.09 116.12,334.33 117.46,334.58 118.79,334.81 120.13,335.04 121.46,335.26 122.80,335.48 124.13,335.68 125.47,335.88 126.81,336.07 128.14,336.26 129.48,336.43 130.81,336.60 132.15,336.77 133.48,336.93 134.82,337.08 136.16,337.22 137.49,337.36 138.83,337.49 140.16,337.62 141.50,337.74 142.83,337.86 144.17,337.96 145.51,338.06 146.84,338.15 148.18,338.23 149.51,338.30 150.85,338.36 152.18,338.41 153.52,338.45 154.86,338.49 156.19,338.51 157.53,338.53 158.86,338.54 160.20,338.55 161.53,338.55 162.87,338.55 164.21,338.55 165.54,338.54 166.88,338.53 168.21,338.51 169.55,338.49 170.88,338.46 172.22,338.43 173.56,338.39 174.89,338.35 176.23,338.30 177.56,338.25 178.90,338.19 180.23,338.13 181.57,338.07 182.91,338.00 184.24,337.92 185.58,337.84 186.91,337.75 188.25,337.66 189.58,337.55 190.92,337.45 192.26,337.34 193.59,337.23 194.93,337.12 196.26,336.99 197.60,336.86 198.93,336.72 200.27,336.57 201.61,336.40 202.94,336.23 204.28,336.03 205.61,335.82 206.95,335.60 208.28,335.37 209.62,335.12 210.96,334.87 212.29,334.61 213.63,334.35 214.96,334.08 216.30,333.81 217.63,333.54 218.97,333.26 220.31,332.97 221.64,332.67 222.98,332.37 224.31,332.07 225.65,331.76 226.98,331.45 228.32,331.13 229.66,330.82 230.99,330.51 232.33,330.19 233.66,329.87 235.00,329.55 236.33,329.22 237.67,328.90 239.00,328.57 240.34,328.24 241.68,327.91 243.01,327.58 244.35,327.25 245.68,326.91 247.02,326.57 248.35,326.23 249.69,325.89 251.03,325.55 252.36,325.21 253.70,324.89 255.03,324.57 256.37,324.26 257.70,323.96 259.04,323.66 260.38,323.38 261.71,323.10 263.05,322.82 264.38,322.55 265.72,322.29 267.05,322.03 268.39,321.77 269.73,321.51 271.06,321.26 272.40,321.01 273.73,320.77 275.07,320.53 276.40,320.29 277.74,320.06 279.08,319.84 280.41,319.61 281.75,319.40 283.08,319.19 284.42,318.98 285.75,318.76 287.09,318.54 288.43,318.32 289.76,318.12 291.10,317.92 292.43,317.75 293.77,317.59 295.10,317.46 296.44,317.36 297.78,317.29 299.11,317.23 300.45,317.19 301.78,317.18 303.12,317.18 304.45,317.21 305.79,317.25 307.13,317.32 308.46,317.41 309.80,317.53 311.13,317.66 312.47,317.82 313.80,318.00 315.14,318.20 316.48,318.42 317.81,318.66 319.15,318.93 320.48,319.21 321.82,319.52 323.15,319.85 324.49,320.23 325.83,320.68 327.16,321.18 328.50,321.71 329.83,322.24 331.17,322.76 332.50,323.26 333.84,323.70 335.18,324.06 336.51,324.34" fill="none" stroke="#3366ff" stroke-width="1.3"/>
<path d="M21.5,197.0V350.3H344.1" fill="none" stroke="#3a3a3a" stroke-width="0.9"/>
<path d="M19.3,336.89H21.5" stroke="#3a3a3a" stroke-width="1.0"/>
<text transform="translate(18.20,339.24) scale(0.92,1)" font-size="6.5" fill="#444" text-anchor="end">0</text>
<path d="M19.3,295.33H21.5" stroke="#3a3a3a" stroke-width="1.0"/>
<text transform="translate(18.20,297.69) scale(0.92,1)" font-size="6.5" fill="#444" text-anchor="end">5</text>
<path d="M19.3,253.78H21.5" stroke="#3a3a3a" stroke-width="1.0"/>
<text transform="translate(18.20,256.13) scale(0.92,1)" font-size="6.5" fill="#444" text-anchor="end">10</text>
<path d="M19.3,212.22H21.5" stroke="#3a3a3a" stroke-width="1.0"/>
<text transform="translate(18.20,214.57) scale(0.92,1)" font-size="6.5" fill="#444" text-anchor="end">15</text>
<path d="M29.30,350.3V352.5" stroke="#3a3a3a" stroke-width="1.0"/>
<text transform="translate(29.60,358.05) scale(0.93,1)" font-size="6.3" fill="#444" text-anchor="middle">1</text>
<path d="M42.66,350.3V352.5" stroke="#3a3a3a" stroke-width="1.0"/>
<text transform="translate(42.96,358.05) scale(0.93,1)" font-size="6.3" fill="#444" text-anchor="middle">2</text>
<path d="M56.01,350.3V352.5" stroke="#3a3a3a" stroke-width="1.0"/>
<text transform="translate(56.31,358.05) scale(0.93,1)" font-size="6.3" fill="#444" text-anchor="middle">3</text>
<path d="M69.37,350.3V352.5" stroke="#3a3a3a" stroke-width="1.0"/>
<text transform="translate(69.67,358.05) scale(0.93,1)" font-size="6.3" fill="#444" text-anchor="middle">4</text>
<path d="M82.73,350.3V352.5" stroke="#3a3a3a" stroke-width="1.0"/>
<text transform="translate(83.03,358.05) scale(0.93,1)" font-size="6.3" fill="#444" text-anchor="middle">5</text>
<path d="M96.08,350.3V352.5" stroke="#3a3a3a" stroke-width="1.0"/>
<text transform="translate(96.38,358.05) scale(0.93,1)" font-size="6.3" fill="#444" text-anchor="middle">6</text>
<path d="M109.44,350.3V352.5" stroke="#3a3a3a" stroke-width="1.0"/>
<text transform="translate(109.74,358.05) scale(0.93,1)" font-size="6.3" fill="#444" text-anchor="middle">7</text>
<path d="M122.80,350.3V352.5" stroke="#3a3a3a" stroke-width="1.0"/>
<text transform="translate(123.10,358.05) scale(0.93,1)" font-size="6.3" fill="#444" text-anchor="middle">8</text>
<path d="M136.16,350.3V352.5" stroke="#3a3a3a" stroke-width="1.0"/>
<text transform="translate(136.46,358.05) scale(0.93,1)" font-size="6.3" fill="#444" text-anchor="middle">9</text>
<path d="M149.51,350.3V352.5" stroke="#3a3a3a" stroke-width="1.0"/>
<text transform="translate(149.81,358.05) scale(0.93,1)" font-size="6.3" fill="#444" text-anchor="middle">10</text>
<path d="M162.87,350.3V352.5" stroke="#3a3a3a" stroke-width="1.0"/>
<text transform="translate(163.17,358.05) scale(0.93,1)" font-size="6.3" fill="#444" text-anchor="middle">11</text>
<path d="M176.23,350.3V352.5" stroke="#3a3a3a" stroke-width="1.0"/>
<text transform="translate(176.53,358.05) scale(0.93,1)" font-size="6.3" fill="#444" text-anchor="middle">12</text>
<path d="M189.58,350.3V352.5" stroke="#3a3a3a" stroke-width="1.0"/>
<text transform="translate(189.88,358.05) scale(0.93,1)" font-size="6.3" fill="#444" text-anchor="middle">13</text>
<path d="M202.94,350.3V352.5" stroke="#3a3a3a" stroke-width="1.0"/>
<text transform="translate(203.24,358.05) scale(0.93,1)" font-size="6.3" fill="#444" text-anchor="middle">14</text>
<path d="M216.30,350.3V352.5" stroke="#3a3a3a" stroke-width="1.0"/>
<text transform="translate(216.60,358.05) scale(0.93,1)" font-size="6.3" fill="#444" text-anchor="middle">15</text>
<path d="M229.66,350.3V352.5" stroke="#3a3a3a" stroke-width="1.0"/>
<text transform="translate(229.96,358.05) scale(0.93,1)" font-size="6.3" fill="#444" text-anchor="middle">16</text>
<path d="M243.01,350.3V352.5" stroke="#3a3a3a" stroke-width="1.0"/>
<text transform="translate(243.31,358.05) scale(0.93,1)" font-size="6.3" fill="#444" text-anchor="middle">17</text>
<path d="M256.37,350.3V352.5" stroke="#3a3a3a" stroke-width="1.0"/>
<text transform="translate(256.67,358.05) scale(0.93,1)" font-size="6.3" fill="#444" text-anchor="middle">18</text>
<path d="M269.73,350.3V352.5" stroke="#3a3a3a" stroke-width="1.0"/>
<text transform="translate(270.03,358.05) scale(0.93,1)" font-size="6.3" fill="#444" text-anchor="middle">19</text>
<path d="M283.08,350.3V352.5" stroke="#3a3a3a" stroke-width="1.0"/>
<text transform="translate(283.38,358.05) scale(0.93,1)" font-size="6.3" fill="#444" text-anchor="middle">20</text>
<path d="M296.44,350.3V352.5" stroke="#3a3a3a" stroke-width="1.0"/>
<text transform="translate(296.74,358.05) scale(0.93,1)" font-size="6.3" fill="#444" text-anchor="middle">21</text>
<path d="M309.80,350.3V352.5" stroke="#3a3a3a" stroke-width="1.0"/>
<text transform="translate(310.10,358.05) scale(0.93,1)" font-size="6.3" fill="#444" text-anchor="middle">22</text>
<path d="M323.15,350.3V352.5" stroke="#3a3a3a" stroke-width="1.0"/>
<text transform="translate(323.45,358.05) scale(0.93,1)" font-size="6.3" fill="#444" text-anchor="middle">23</text>
<path d="M336.51,350.3V352.5" stroke="#3a3a3a" stroke-width="1.0"/>
<text transform="translate(336.81,358.05) scale(0.93,1)" font-size="6.3" fill="#444" text-anchor="middle">24</text>
<text x="13.3" y="185.8" font-size="6.6" font-weight="bold">C</text>
<text x="21.1" y="191.8" font-size="8.65" font-style="italic" fill="#1a1a1a">Anopheles minimus</text>
<rect x="358.4" y="197.0" width="81.65" height="153.30" fill="#dedede"/>
<rect x="440.05" y="197.0" width="147.95" height="153.30" fill="#fae4d6"/>
<rect x="588.00" y="197.0" width="96.30" height="153.30" fill="#dedede"/>
<mask id="m7"><rect x="385.20000000000005" y="197.3" width="30" height="30" fill="#fff"/><circle cx="404.10" cy="209.80" r="9.2" fill="#000"/></mask>
<circle cx="400.20" cy="212.30" r="10.6" fill="#000" mask="url(#m7)"/>
<mask id="m8"><rect x="614.7" y="196.20000000000002" width="30" height="30" fill="#fff"/><circle cx="633.60" cy="208.70" r="9.2" fill="#000"/></mask>
<circle cx="629.70" cy="211.20" r="10.6" fill="#000" mask="url(#m8)"/>
<radialGradient id="rg513" gradientUnits="userSpaceOnUse" cx="512.8" cy="213.5" r="13"><stop offset="0.55" stop-color="#ffc000"/><stop offset="0.75" stop-color="#ffd000"/><stop offset="1" stop-color="#ffe040"/></radialGradient><path d="M513.54,206.94L516.48,202.08L516.03,207.75ZM516.72,208.19L521.70,205.45L518.48,210.13ZM518.85,210.86L524.53,210.98L519.40,213.42ZM519.36,214.24L524.22,217.18L518.55,216.73ZM518.11,217.42L520.85,222.40L516.17,219.18ZM515.44,219.55L515.32,225.23L512.88,220.10ZM512.06,220.06L509.12,224.92L509.57,219.25ZM508.88,218.81L503.90,221.55L507.12,216.87ZM506.75,216.14L501.07,216.02L506.20,213.58ZM506.24,212.76L501.38,209.82L507.05,210.27ZM507.49,209.58L504.75,204.60L509.43,207.82ZM510.16,207.45L510.28,201.77L512.72,206.90Z" fill="url(#rg513)"/><path d="M511.81,206.97L513.48,199.92L514.43,207.11ZM515.21,207.36L520.18,202.08L517.41,208.78ZM517.96,209.38L524.90,207.30L519.15,211.72ZM519.33,212.51L526.38,214.18L519.19,215.13ZM518.94,215.91L524.22,220.88L517.52,218.11ZM516.92,218.66L519.00,225.60L514.58,219.85ZM513.79,220.03L512.12,227.08L511.17,219.89ZM510.39,219.64L505.42,224.92L508.19,218.22ZM507.64,217.62L500.70,219.70L506.45,215.28ZM506.27,214.49L499.22,212.82L506.41,211.87ZM506.66,211.09L501.38,206.12L508.08,208.89ZM508.68,208.34L506.60,201.40L511.02,207.15Z" fill="url(#rg513)"/><circle cx="512.8" cy="213.5" r="7.2" fill="url(#sg)"/>
<polygon points="366.20,303.86 367.55,304.12 368.90,304.46 370.25,304.86 371.60,305.30 372.95,305.78 374.30,306.29 375.65,306.79 376.99,307.30 378.34,307.78 379.69,308.22 381.04,308.64 382.39,309.06 383.74,309.48 385.09,309.90 386.44,310.31 387.79,310.72 389.14,311.13 390.49,311.53 391.84,311.93 393.19,312.32 394.54,312.71 395.88,313.10 397.23,313.48 398.58,313.87 399.93,314.24 401.28,314.62 402.63,314.99 403.98,315.35 405.33,315.71 406.68,316.07 408.03,316.42 409.38,316.76 410.73,317.10 412.08,317.43 413.43,317.77 414.77,318.09 416.12,318.42 417.47,318.74 418.82,319.06 420.17,319.37 421.52,319.68 422.87,319.99 424.22,320.30 425.57,320.60 426.92,320.90 428.27,321.19 429.62,321.49 430.97,321.78 432.32,322.08 433.66,322.37 435.01,322.66 436.36,322.95 437.71,323.25 439.06,323.54 440.41,323.83 441.76,324.11 443.11,324.40 444.46,324.68 445.81,324.96 447.16,325.23 448.51,325.51 449.86,325.78 451.21,326.06 452.56,326.33 453.90,326.60 455.25,326.86 456.60,327.12 457.95,327.37 459.30,327.60 460.65,327.83 462.00,328.05 463.35,328.26 464.70,328.46 466.05,328.65 467.40,328.84 468.75,329.02 470.10,329.19 471.45,329.36 472.79,329.53 474.14,329.68 475.49,329.84 476.84,329.99 478.19,330.13 479.54,330.27 480.89,330.40 482.24,330.52 483.59,330.64 484.94,330.75 486.29,330.86 487.64,330.96 488.99,331.05 490.34,331.14 491.68,331.22 493.03,331.29 494.38,331.35 495.73,331.41 497.08,331.47 498.43,331.52 499.78,331.57 501.13,331.62 502.48,331.67 503.83,331.72 505.18,331.76 506.53,331.80 507.88,331.84 509.23,331.87 510.58,331.90 511.92,331.93 513.27,331.95 514.62,331.98 515.97,332.00 517.32,332.02 518.67,332.04 520.02,332.06 521.37,332.07 522.72,332.09 524.07,332.09 525.42,332.09 526.77,332.08 528.12,332.06 529.47,332.04 530.81,332.01 532.16,331.97 533.51,331.92 534.86,331.87 536.21,331.81 537.56,331.75 538.91,331.68 540.26,331.61 541.61,331.53 542.96,331.45 544.31,331.37 545.66,331.27 547.01,331.18 548.36,331.07 549.70,330.96 551.05,330.85 552.40,330.73 553.75,330.61 555.10,330.48 556.45,330.34 557.80,330.21 559.15,330.06 560.50,329.92 561.85,329.76 563.20,329.60 564.55,329.44 565.90,329.26 567.25,329.08 568.60,328.89 569.94,328.69 571.29,328.47 572.64,328.25 573.99,328.01 575.34,327.77 576.69,327.53 578.04,327.28 579.39,327.04 580.74,326.79 582.09,326.55 583.44,326.32 584.79,326.09 586.14,325.85 587.49,325.62 588.83,325.39 590.18,325.15 591.53,324.91 592.88,324.67 594.23,324.43 595.58,324.18 596.93,323.92 598.28,323.66 599.63,323.39 600.98,323.12 602.33,322.85 603.68,322.57 605.03,322.30 606.38,322.03 607.72,321.76 609.07,321.49 610.42,321.22 611.77,320.96 613.12,320.69 614.47,320.43 615.82,320.16 617.17,319.90 618.52,319.64 619.87,319.37 621.22,319.11 622.57,318.84 623.92,318.58 625.27,318.32 626.61,318.06 627.96,317.81 629.31,317.55 630.66,317.29 632.01,317.02 633.36,316.74 634.71,316.46 636.06,316.15 637.41,315.84 638.76,315.50 640.11,315.15 641.46,314.79 642.81,314.42 644.16,314.06 645.51,313.70 646.85,313.34 648.20,313.00 649.55,312.67 650.90,312.36 652.25,312.06 653.60,311.77 654.95,311.49 656.30,311.21 657.65,310.93 659.00,310.66 660.35,310.38 661.70,310.10 663.05,309.81 664.40,309.50 665.74,309.17 667.09,308.82 668.44,308.48 669.79,308.13 671.14,307.80 672.49,307.49 673.84,307.22 675.19,306.99 676.54,306.81 676.54,327.70 675.19,327.63 673.84,327.52 672.49,327.40 671.14,327.26 669.79,327.11 668.44,326.97 667.09,326.83 665.74,326.72 664.40,326.62 663.05,326.55 661.70,326.51 660.35,326.49 659.00,326.47 657.65,326.47 656.30,326.49 654.95,326.51 653.60,326.56 652.25,326.61 650.90,326.69 649.55,326.78 648.20,326.89 646.85,327.02 645.51,327.18 644.16,327.35 642.81,327.54 641.46,327.73 640.11,327.92 638.76,328.12 637.41,328.31 636.06,328.49 634.71,328.67 633.36,328.84 632.01,329.02 630.66,329.19 629.31,329.37 627.96,329.55 626.61,329.73 625.27,329.91 623.92,330.10 622.57,330.30 621.22,330.50 619.87,330.72 618.52,330.93 617.17,331.15 615.82,331.38 614.47,331.60 613.12,331.83 611.77,332.05 610.42,332.28 609.07,332.50 607.72,332.73 606.38,332.95 605.03,333.17 603.68,333.39 602.33,333.62 600.98,333.84 599.63,334.07 598.28,334.29 596.93,334.52 595.58,334.75 594.23,334.98 592.88,335.22 591.53,335.46 590.18,335.70 588.83,335.94 587.49,336.18 586.14,336.42 584.79,336.66 583.44,336.89 582.09,337.13 580.74,337.37 579.39,337.61 578.04,337.86 576.69,338.11 575.34,338.35 573.99,338.59 572.64,338.82 571.29,339.05 569.94,339.26 568.60,339.47 567.25,339.66 565.90,339.84 564.55,340.02 563.20,340.18 561.85,340.34 560.50,340.49 559.15,340.64 557.80,340.78 556.45,340.92 555.10,341.05 553.75,341.18 552.40,341.31 551.05,341.43 549.70,341.54 548.36,341.65 547.01,341.75 545.66,341.85 544.31,341.94 542.96,342.03 541.61,342.11 540.26,342.19 538.91,342.26 537.56,342.33 536.21,342.39 534.86,342.45 533.51,342.50 532.16,342.54 530.81,342.58 529.47,342.61 528.12,342.64 526.77,342.66 525.42,342.67 524.07,342.67 522.72,342.66 521.37,342.65 520.02,342.64 518.67,342.62 517.32,342.60 515.97,342.57 514.62,342.55 513.27,342.53 511.92,342.50 510.58,342.48 509.23,342.45 507.88,342.41 506.53,342.38 505.18,342.34 503.83,342.29 502.48,342.25 501.13,342.20 499.78,342.15 498.43,342.10 497.08,342.04 495.73,341.99 494.38,341.93 493.03,341.86 491.68,341.79 490.34,341.72 488.99,341.63 487.64,341.54 486.29,341.44 484.94,341.33 483.59,341.22 482.24,341.10 480.89,340.97 479.54,340.84 478.19,340.71 476.84,340.56 475.49,340.41 474.14,340.26 472.79,340.10 471.45,339.94 470.10,339.77 468.75,339.60 467.40,339.42 466.05,339.23 464.70,339.04 463.35,338.84 462.00,338.63 460.65,338.41 459.30,338.18 457.95,337.94 456.60,337.69 455.25,337.44 453.90,337.17 452.56,336.90 451.21,336.63 449.86,336.36 448.51,336.08 447.16,335.81 445.81,335.53 444.46,335.25 443.11,334.96 441.76,334.67 440.41,334.37 439.06,334.08 437.71,333.79 436.36,333.50 435.01,333.22 433.66,332.95 432.32,332.68 430.97,332.41 429.62,332.15 428.27,331.89 426.92,331.64 425.57,331.39 424.22,331.14 422.87,330.89 421.52,330.64 420.17,330.39 418.82,330.14 417.47,329.89 416.12,329.64 414.77,329.39 413.43,329.14 412.08,328.90 410.73,328.66 409.38,328.42 408.03,328.19 406.68,327.97 405.33,327.74 403.98,327.52 402.63,327.31 401.28,327.09 399.93,326.89 398.58,326.68 397.23,326.49 395.88,326.31 394.54,326.14 393.19,325.98 391.84,325.84 390.49,325.70 389.14,325.57 387.79,325.46 386.44,325.35 385.09,325.25 383.74,325.16 382.39,325.09 381.04,325.02 379.69,324.97 378.34,324.93 376.99,324.91 375.65,324.91 374.30,324.91 372.95,324.93 371.60,324.95 370.25,324.97 368.90,324.99 367.55,325.01 366.20,325.01" fill="#d5d5d5"/>
<circle cx="366.20" cy="203.82" r="1.5" fill="#000"/>
<circle cx="366.20" cy="247.89" r="1.5" fill="#000"/>
<circle cx="366.20" cy="291.96" r="1.5" fill="#000"/>
<circle cx="366.20" cy="336.03" r="1.5" fill="#000"/>
<circle cx="379.69" cy="247.89" r="1.5" fill="#000"/>
<circle cx="379.69" cy="291.96" r="1.5" fill="#000"/>
<circle cx="379.69" cy="336.03" r="1.5" fill="#000"/>
<circle cx="393.19" cy="203.82" r="1.5" fill="#000"/>
<circle cx="393.19" cy="291.96" r="1.5" fill="#000"/>
<circle cx="393.19" cy="336.03" r="1.5" fill="#000"/>
<circle cx="406.68" cy="247.89" r="1.5" fill="#000"/>
<circle cx="406.68" cy="291.96" r="1.5" fill="#000"/>
<circle cx="406.68" cy="336.03" r="1.5" fill="#000"/>
<circle cx="420.17" cy="291.96" r="1.5" fill="#000"/>
<circle cx="420.17" cy="336.03" r="1.5" fill="#000"/>
<circle cx="433.66" cy="247.89" r="1.5" fill="#000"/>
<circle cx="433.66" cy="291.96" r="1.5" fill="#000"/>
<circle cx="433.66" cy="336.03" r="1.5" fill="#000"/>
<circle cx="447.16" cy="291.96" r="1.5" fill="#000"/>
<circle cx="447.16" cy="336.03" r="1.5" fill="#000"/>
<circle cx="460.65" cy="291.96" r="1.5" fill="#000"/>
<circle cx="460.65" cy="336.03" r="1.5" fill="#000"/>
<circle cx="474.14" cy="336.03" r="1.5" fill="#000"/>
<circle cx="487.64" cy="336.03" r="1.5" fill="#000"/>
<circle cx="501.13" cy="336.03" r="1.5" fill="#000"/>
<circle cx="514.62" cy="336.03" r="1.5" fill="#000"/>
<circle cx="528.12" cy="336.03" r="1.5" fill="#000"/>
<circle cx="541.61" cy="336.03" r="1.5" fill="#000"/>
<circle cx="555.10" cy="336.03" r="1.5" fill="#000"/>
<circle cx="568.60" cy="336.03" r="1.5" fill="#000"/>
<circle cx="582.09" cy="336.03" r="1.5" fill="#000"/>
<circle cx="595.58" cy="291.96" r="1.5" fill="#000"/>
<circle cx="595.58" cy="336.03" r="1.5" fill="#000"/>
<circle cx="609.07" cy="247.89" r="1.5" fill="#000"/>
<circle cx="609.07" cy="291.96" r="1.5" fill="#000"/>
<circle cx="609.07" cy="336.03" r="1.5" fill="#000"/>
<circle cx="622.57" cy="247.89" r="1.5" fill="#000"/>
<circle cx="622.57" cy="336.03" r="1.5" fill="#000"/>
<circle cx="636.06" cy="247.89" r="1.5" fill="#000"/>
<circle cx="636.06" cy="291.96" r="1.5" fill="#000"/>
<circle cx="636.06" cy="336.03" r="1.5" fill="#000"/>
<circle cx="649.55" cy="247.89" r="1.5" fill="#000"/>
<circle cx="649.55" cy="291.96" r="1.5" fill="#000"/>
<circle cx="649.55" cy="336.03" r="1.5" fill="#000"/>
<circle cx="663.05" cy="247.89" r="1.5" fill="#000"/>
<circle cx="663.05" cy="291.96" r="1.5" fill="#000"/>
<circle cx="663.05" cy="336.03" r="1.5" fill="#000"/>
<circle cx="676.54" cy="203.82" r="1.5" fill="#000"/>
<circle cx="676.54" cy="336.03" r="1.5" fill="#000"/>
<polygon points="366.20,303.86 367.55,304.12 368.90,304.46 370.25,304.86 371.60,305.30 372.95,305.78 374.30,306.29 375.65,306.79 376.99,307.30 378.34,307.78 379.69,308.22 381.04,308.64 382.39,309.06 383.74,309.48 385.09,309.90 386.44,310.31 387.79,310.72 389.14,311.13 390.49,311.53 391.84,311.93 393.19,312.32 394.54,312.71 395.88,313.10 397.23,313.48 398.58,313.87 399.93,314.24 401.28,314.62 402.63,314.99 403.98,315.35 405.33,315.71 406.68,316.07 408.03,316.42 409.38,316.76 410.73,317.10 412.08,317.43 413.43,317.77 414.77,318.09 416.12,318.42 417.47,318.74 418.82,319.06 420.17,319.37 421.52,319.68 422.87,319.99 424.22,320.30 425.57,320.60 426.92,320.90 428.27,321.19 429.62,321.49 430.97,321.78 432.32,322.08 433.66,322.37 435.01,322.66 436.36,322.95 437.71,323.25 439.06,323.54 440.41,323.83 441.76,324.11 443.11,324.40 444.46,324.68 445.81,324.96 447.16,325.23 448.51,325.51 449.86,325.78 451.21,326.06 452.56,326.33 453.90,326.60 455.25,326.86 456.60,327.12 457.95,327.37 459.30,327.60 460.65,327.83 462.00,328.05 463.35,328.26 464.70,328.46 466.05,328.65 467.40,328.84 468.75,329.02 470.10,329.19 471.45,329.36 472.79,329.53 474.14,329.68 475.49,329.84 476.84,329.99 478.19,330.13 479.54,330.27 480.89,330.40 482.24,330.52 483.59,330.64 484.94,330.75 486.29,330.86 487.64,330.96 488.99,331.05 490.34,331.14 491.68,331.22 493.03,331.29 494.38,331.35 495.73,331.41 497.08,331.47 498.43,331.52 499.78,331.57 501.13,331.62 502.48,331.67 503.83,331.72 505.18,331.76 506.53,331.80 507.88,331.84 509.23,331.87 510.58,331.90 511.92,331.93 513.27,331.95 514.62,331.98 515.97,332.00 517.32,332.02 518.67,332.04 520.02,332.06 521.37,332.07 522.72,332.09 524.07,332.09 525.42,332.09 526.77,332.08 528.12,332.06 529.47,332.04 530.81,332.01 532.16,331.97 533.51,331.92 534.86,331.87 536.21,331.81 537.56,331.75 538.91,331.68 540.26,331.61 541.61,331.53 542.96,331.45 544.31,331.37 545.66,331.27 547.01,331.18 548.36,331.07 549.70,330.96 551.05,330.85 552.40,330.73 553.75,330.61 555.10,330.48 556.45,330.34 557.80,330.21 559.15,330.06 560.50,329.92 561.85,329.76 563.20,329.60 564.55,329.44 565.90,329.26 567.25,329.08 568.60,328.89 569.94,328.69 571.29,328.47 572.64,328.25 573.99,328.01 575.34,327.77 576.69,327.53 578.04,327.28 579.39,327.04 580.74,326.79 582.09,326.55 583.44,326.32 584.79,326.09 586.14,325.85 587.49,325.62 588.83,325.39 590.18,325.15 591.53,324.91 592.88,324.67 594.23,324.43 595.58,324.18 596.93,323.92 598.28,323.66 599.63,323.39 600.98,323.12 602.33,322.85 603.68,322.57 605.03,322.30 606.38,322.03 607.72,321.76 609.07,321.49 610.42,321.22 611.77,320.96 613.12,320.69 614.47,320.43 615.82,320.16 617.17,319.90 618.52,319.64 619.87,319.37 621.22,319.11 622.57,318.84 623.92,318.58 625.27,318.32 626.61,318.06 627.96,317.81 629.31,317.55 630.66,317.29 632.01,317.02 633.36,316.74 634.71,316.46 636.06,316.15 637.41,315.84 638.76,315.50 640.11,315.15 641.46,314.79 642.81,314.42 644.16,314.06 645.51,313.70 646.85,313.34 648.20,313.00 649.55,312.67 650.90,312.36 652.25,312.06 653.60,311.77 654.95,311.49 656.30,311.21 657.65,310.93 659.00,310.66 660.35,310.38 661.70,310.10 663.05,309.81 664.40,309.50 665.74,309.17 667.09,308.82 668.44,308.48 669.79,308.13 671.14,307.80 672.49,307.49 673.84,307.22 675.19,306.99 676.54,306.81 676.54,327.70 675.19,327.63 673.84,327.52 672.49,327.40 671.14,327.26 669.79,327.11 668.44,326.97 667.09,326.83 665.74,326.72 664.40,326.62 663.05,326.55 661.70,326.51 660.35,326.49 659.00,326.47 657.65,326.47 656.30,326.49 654.95,326.51 653.60,326.56 652.25,326.61 650.90,326.69 649.55,326.78 648.20,326.89 646.85,327.02 645.51,327.18 644.16,327.35 642.81,327.54 641.46,327.73 640.11,327.92 638.76,328.12 637.41,328.31 636.06,328.49 634.71,328.67 633.36,328.84 632.01,329.02 630.66,329.19 629.31,329.37 627.96,329.55 626.61,329.73 625.27,329.91 623.92,330.10 622.57,330.30 621.22,330.50 619.87,330.72 618.52,330.93 617.17,331.15 615.82,331.38 614.47,331.60 613.12,331.83 611.77,332.05 610.42,332.28 609.07,332.50 607.72,332.73 606.38,332.95 605.03,333.17 603.68,333.39 602.33,333.62 600.98,333.84 599.63,334.07 598.28,334.29 596.93,334.52 595.58,334.75 594.23,334.98 592.88,335.22 591.53,335.46 590.18,335.70 588.83,335.94 587.49,336.18 586.14,336.42 584.79,336.66 583.44,336.89 582.09,337.13 580.74,337.37 579.39,337.61 578.04,337.86 576.69,338.11 575.34,338.35 573.99,338.59 572.64,338.82 571.29,339.05 569.94,339.26 568.60,339.47 567.25,339.66 565.90,339.84 564.55,340.02 563.20,340.18 561.85,340.34 560.50,340.49 559.15,340.64 557.80,340.78 556.45,340.92 555.10,341.05 553.75,341.18 552.40,341.31 551.05,341.43 549.70,341.54 548.36,341.65 547.01,341.75 545.66,341.85 544.31,341.94 542.96,342.03 541.61,342.11 540.26,342.19 538.91,342.26 537.56,342.33 536.21,342.39 534.86,342.45 533.51,342.50 532.16,342.54 530.81,342.58 529.47,342.61 528.12,342.64 526.77,342.66 525.42,342.67 524.07,342.67 522.72,342.66 521.37,342.65 520.02,342.64 518.67,342.62 517.32,342.60 515.97,342.57 514.62,342.55 513.27,342.53 511.92,342.50 510.58,342.48 509.23,342.45 507.88,342.41 506.53,342.38 505.18,342.34 503.83,342.29 502.48,342.25 501.13,342.20 499.78,342.15 498.43,342.10 497.08,342.04 495.73,341.99 494.38,341.93 493.03,341.86 491.68,341.79 490.34,341.72 488.99,341.63 487.64,341.54 486.29,341.44 484.94,341.33 483.59,341.22 482.24,341.10 480.89,340.97 479.54,340.84 478.19,340.71 476.84,340.56 475.49,340.41 474.14,340.26 472.79,340.10 471.45,339.94 470.10,339.77 468.75,339.60 467.40,339.42 466.05,339.23 464.70,339.04 463.35,338.84 462.00,338.63 460.65,338.41 459.30,338.18 457.95,337.94 456.60,337.69 455.25,337.44 453.90,337.17 452.56,336.90 451.21,336.63 449.86,336.36 448.51,336.08 447.16,335.81 445.81,335.53 444.46,335.25 443.11,334.96 441.76,334.67 440.41,334.37 439.06,334.08 437.71,333.79 436.36,333.50 435.01,333.22 433.66,332.95 432.32,332.68 430.97,332.41 429.62,332.15 428.27,331.89 426.92,331.64 425.57,331.39 424.22,331.14 422.87,330.89 421.52,330.64 420.17,330.39 418.82,330.14 417.47,329.89 416.12,329.64 414.77,329.39 413.43,329.14 412.08,328.90 410.73,328.66 409.38,328.42 408.03,328.19 406.68,327.97 405.33,327.74 403.98,327.52 402.63,327.31 401.28,327.09 399.93,326.89 398.58,326.68 397.23,326.49 395.88,326.31 394.54,326.14 393.19,325.98 391.84,325.84 390.49,325.70 389.14,325.57 387.79,325.46 386.44,325.35 385.09,325.25 383.74,325.16 382.39,325.09 381.04,325.02 379.69,324.97 378.34,324.93 376.99,324.91 375.65,324.91 374.30,324.91 372.95,324.93 371.60,324.95 370.25,324.97 368.90,324.99 367.55,325.01 366.20,325.01" fill="#d5d5d5" fill-opacity="0.24"/>
<polyline points="366.20,314.44 367.55,314.56 368.90,314.72 370.25,314.91 371.60,315.12 372.95,315.36 374.30,315.60 375.65,315.85 376.99,316.10 378.34,316.35 379.69,316.60 381.04,316.83 382.39,317.08 383.74,317.32 385.09,317.57 386.44,317.83 387.79,318.09 389.14,318.35 390.49,318.61 391.84,318.88 393.19,319.15 394.54,319.43 395.88,319.70 397.23,319.99 398.58,320.27 399.93,320.56 401.28,320.86 402.63,321.15 403.98,321.44 405.33,321.73 406.68,322.02 408.03,322.30 409.38,322.59 410.73,322.88 412.08,323.17 413.43,323.45 414.77,323.74 416.12,324.03 417.47,324.31 418.82,324.60 420.17,324.88 421.52,325.16 422.87,325.44 424.22,325.72 425.57,325.99 426.92,326.27 428.27,326.54 429.62,326.82 430.97,327.10 432.32,327.38 433.66,327.66 435.01,327.94 436.36,328.23 437.71,328.52 439.06,328.81 440.41,329.10 441.76,329.39 443.11,329.68 444.46,329.96 445.81,330.25 447.16,330.52 448.51,330.80 449.86,331.07 451.21,331.34 452.56,331.62 453.90,331.88 455.25,332.15 456.60,332.40 457.95,332.65 459.30,332.89 460.65,333.12 462.00,333.34 463.35,333.55 464.70,333.75 466.05,333.94 467.40,334.13 468.75,334.31 470.10,334.48 471.45,334.65 472.79,334.81 474.14,334.97 475.49,335.13 476.84,335.27 478.19,335.42 479.54,335.55 480.89,335.69 482.24,335.81 483.59,335.93 484.94,336.04 486.29,336.15 487.64,336.25 488.99,336.34 490.34,336.43 491.68,336.50 493.03,336.57 494.38,336.64 495.73,336.70 497.08,336.76 498.43,336.81 499.78,336.86 501.13,336.91 502.48,336.96 503.83,337.01 505.18,337.05 506.53,337.09 507.88,337.12 509.23,337.16 510.58,337.19 511.92,337.22 513.27,337.24 514.62,337.26 515.97,337.29 517.32,337.31 518.67,337.33 520.02,337.35 521.37,337.36 522.72,337.37 524.07,337.38 525.42,337.38 526.77,337.37 528.12,337.35 529.47,337.33 530.81,337.29 532.16,337.26 533.51,337.21 534.86,337.16 536.21,337.10 537.56,337.04 538.91,336.97 540.26,336.90 541.61,336.82 542.96,336.74 544.31,336.65 545.66,336.56 547.01,336.46 548.36,336.36 549.70,336.25 551.05,336.14 552.40,336.02 553.75,335.90 555.10,335.77 556.45,335.63 557.80,335.49 559.15,335.35 560.50,335.21 561.85,335.05 563.20,334.89 564.55,334.73 565.90,334.55 567.25,334.37 568.60,334.18 569.94,333.98 571.29,333.76 572.64,333.53 573.99,333.30 575.34,333.06 576.69,332.82 578.04,332.57 579.39,332.33 580.74,332.08 582.09,331.84 583.44,331.61 584.79,331.37 586.14,331.14 587.49,330.90 588.83,330.66 590.18,330.42 591.53,330.19 592.88,329.95 594.23,329.71 595.58,329.46 596.93,329.22 598.28,328.97 599.63,328.73 600.98,328.48 602.33,328.23 603.68,327.98 605.03,327.74 606.38,327.49 607.72,327.24 609.07,327.00 610.42,326.75 611.77,326.51 613.12,326.26 614.47,326.01 615.82,325.77 617.17,325.53 618.52,325.28 619.87,325.04 621.22,324.81 622.57,324.57 623.92,324.34 625.27,324.12 626.61,323.90 627.96,323.68 629.31,323.46 630.66,323.24 632.01,323.02 633.36,322.79 634.71,322.56 636.06,322.32 637.41,322.07 638.76,321.81 640.11,321.54 641.46,321.26 642.81,320.98 644.16,320.70 645.51,320.44 646.85,320.18 648.20,319.94 649.55,319.72 650.90,319.52 652.25,319.34 653.60,319.16 654.95,319.00 656.30,318.85 657.65,318.70 659.00,318.57 660.35,318.43 661.70,318.31 663.05,318.18 664.40,318.06 665.74,317.94 667.09,317.83 668.44,317.72 669.79,317.62 671.14,317.53 672.49,317.45 673.84,317.37 675.19,317.31 676.54,317.26" fill="none" stroke="#3366ff" stroke-width="1.3"/>
<path d="M358.4,197.0V350.3H684.3" fill="none" stroke="#3a3a3a" stroke-width="0.9"/>
<path d="M356.2,336.03H358.4" stroke="#3a3a3a" stroke-width="1.0"/>
<text transform="translate(355.10,338.38) scale(0.92,1)" font-size="6.5" fill="#444" text-anchor="end">0</text>
<path d="M356.2,291.96H358.4" stroke="#3a3a3a" stroke-width="1.0"/>
<text transform="translate(355.10,294.31) scale(0.92,1)" font-size="6.5" fill="#444" text-anchor="end">1</text>
<path d="M356.2,247.89H358.4" stroke="#3a3a3a" stroke-width="1.0"/>
<text transform="translate(355.10,250.24) scale(0.92,1)" font-size="6.5" fill="#444" text-anchor="end">2</text>
<path d="M356.2,203.82H358.4" stroke="#3a3a3a" stroke-width="1.0"/>
<text transform="translate(355.10,206.17) scale(0.92,1)" font-size="6.5" fill="#444" text-anchor="end">3</text>
<path d="M366.20,350.3V352.5" stroke="#3a3a3a" stroke-width="1.0"/>
<text transform="translate(366.50,358.05) scale(0.93,1)" font-size="6.3" fill="#444" text-anchor="middle">1</text>
<path d="M379.69,350.3V352.5" stroke="#3a3a3a" stroke-width="1.0"/>
<text transform="translate(379.99,358.05) scale(0.93,1)" font-size="6.3" fill="#444" text-anchor="middle">2</text>
<path d="M393.19,350.3V352.5" stroke="#3a3a3a" stroke-width="1.0"/>
<text transform="translate(393.49,358.05) scale(0.93,1)" font-size="6.3" fill="#444" text-anchor="middle">3</text>
<path d="M406.68,350.3V352.5" stroke="#3a3a3a" stroke-width="1.0"/>
<text transform="translate(406.98,358.05) scale(0.93,1)" font-size="6.3" fill="#444" text-anchor="middle">4</text>
<path d="M420.17,350.3V352.5" stroke="#3a3a3a" stroke-width="1.0"/>
<text transform="translate(420.47,358.05) scale(0.93,1)" font-size="6.3" fill="#444" text-anchor="middle">5</text>
<path d="M433.66,350.3V352.5" stroke="#3a3a3a" stroke-width="1.0"/>
<text transform="translate(433.96,358.05) scale(0.93,1)" font-size="6.3" fill="#444" text-anchor="middle">6</text>
<path d="M447.16,350.3V352.5" stroke="#3a3a3a" stroke-width="1.0"/>
<text transform="translate(447.46,358.05) scale(0.93,1)" font-size="6.3" fill="#444" text-anchor="middle">7</text>
<path d="M460.65,350.3V352.5" stroke="#3a3a3a" stroke-width="1.0"/>
<text transform="translate(460.95,358.05) scale(0.93,1)" font-size="6.3" fill="#444" text-anchor="middle">8</text>
<path d="M474.14,350.3V352.5" stroke="#3a3a3a" stroke-width="1.0"/>
<text transform="translate(474.44,358.05) scale(0.93,1)" font-size="6.3" fill="#444" text-anchor="middle">9</text>
<path d="M487.64,350.3V352.5" stroke="#3a3a3a" stroke-width="1.0"/>
<text transform="translate(487.94,358.05) scale(0.93,1)" font-size="6.3" fill="#444" text-anchor="middle">10</text>
<path d="M501.13,350.3V352.5" stroke="#3a3a3a" stroke-width="1.0"/>
<text transform="translate(501.43,358.05) scale(0.93,1)" font-size="6.3" fill="#444" text-anchor="middle">11</text>
<path d="M514.62,350.3V352.5" stroke="#3a3a3a" stroke-width="1.0"/>
<text transform="translate(514.92,358.05) scale(0.93,1)" font-size="6.3" fill="#444" text-anchor="middle">12</text>
<path d="M528.12,350.3V352.5" stroke="#3a3a3a" stroke-width="1.0"/>
<text transform="translate(528.42,358.05) scale(0.93,1)" font-size="6.3" fill="#444" text-anchor="middle">13</text>
<path d="M541.61,350.3V352.5" stroke="#3a3a3a" stroke-width="1.0"/>
<text transform="translate(541.91,358.05) scale(0.93,1)" font-size="6.3" fill="#444" text-anchor="middle">14</text>
<path d="M555.10,350.3V352.5" stroke="#3a3a3a" stroke-width="1.0"/>
<text transform="translate(555.40,358.05) scale(0.93,1)" font-size="6.3" fill="#444" text-anchor="middle">15</text>
<path d="M568.60,350.3V352.5" stroke="#3a3a3a" stroke-width="1.0"/>
<text transform="translate(568.89,358.05) scale(0.93,1)" font-size="6.3" fill="#444" text-anchor="middle">16</text>
<path d="M582.09,350.3V352.5" stroke="#3a3a3a" stroke-width="1.0"/>
<text transform="translate(582.39,358.05) scale(0.93,1)" font-size="6.3" fill="#444" text-anchor="middle">17</text>
<path d="M595.58,350.3V352.5" stroke="#3a3a3a" stroke-width="1.0"/>
<text transform="translate(595.88,358.05) scale(0.93,1)" font-size="6.3" fill="#444" text-anchor="middle">18</text>
<path d="M609.07,350.3V352.5" stroke="#3a3a3a" stroke-width="1.0"/>
<text transform="translate(609.37,358.05) scale(0.93,1)" font-size="6.3" fill="#444" text-anchor="middle">19</text>
<path d="M622.57,350.3V352.5" stroke="#3a3a3a" stroke-width="1.0"/>
<text transform="translate(622.87,358.05) scale(0.93,1)" font-size="6.3" fill="#444" text-anchor="middle">20</text>
<path d="M636.06,350.3V352.5" stroke="#3a3a3a" stroke-width="1.0"/>
<text transform="translate(636.36,358.05) scale(0.93,1)" font-size="6.3" fill="#444" text-anchor="middle">21</text>
<path d="M649.55,350.3V352.5" stroke="#3a3a3a" stroke-width="1.0"/>
<text transform="translate(649.85,358.05) scale(0.93,1)" font-size="6.3" fill="#444" text-anchor="middle">22</text>
<path d="M663.05,350.3V352.5" stroke="#3a3a3a" stroke-width="1.0"/>
<text transform="translate(663.35,358.05) scale(0.93,1)" font-size="6.3" fill="#444" text-anchor="middle">23</text>
<path d="M676.54,350.3V352.5" stroke="#3a3a3a" stroke-width="1.0"/>
<text transform="translate(676.84,358.05) scale(0.93,1)" font-size="6.3" fill="#444" text-anchor="middle">24</text>
<text x="352.8" y="185.5" font-size="6.6" font-weight="bold">D</text>
<text x="358.1" y="191.4" font-size="8.65" font-style="italic" fill="#1a1a1a">Anopheles baimaii</text>
<text x="348.3" y="369.9" font-size="6.5" font-weight="bold" text-anchor="middle">Time (Hour)</text>
<text transform="translate(6.8,186.5) rotate(-90)" font-size="6.5" font-weight="bold" text-anchor="middle">Average number of mosquitoes/Month/hour</text>
</g>
</svg>
</body></html>
